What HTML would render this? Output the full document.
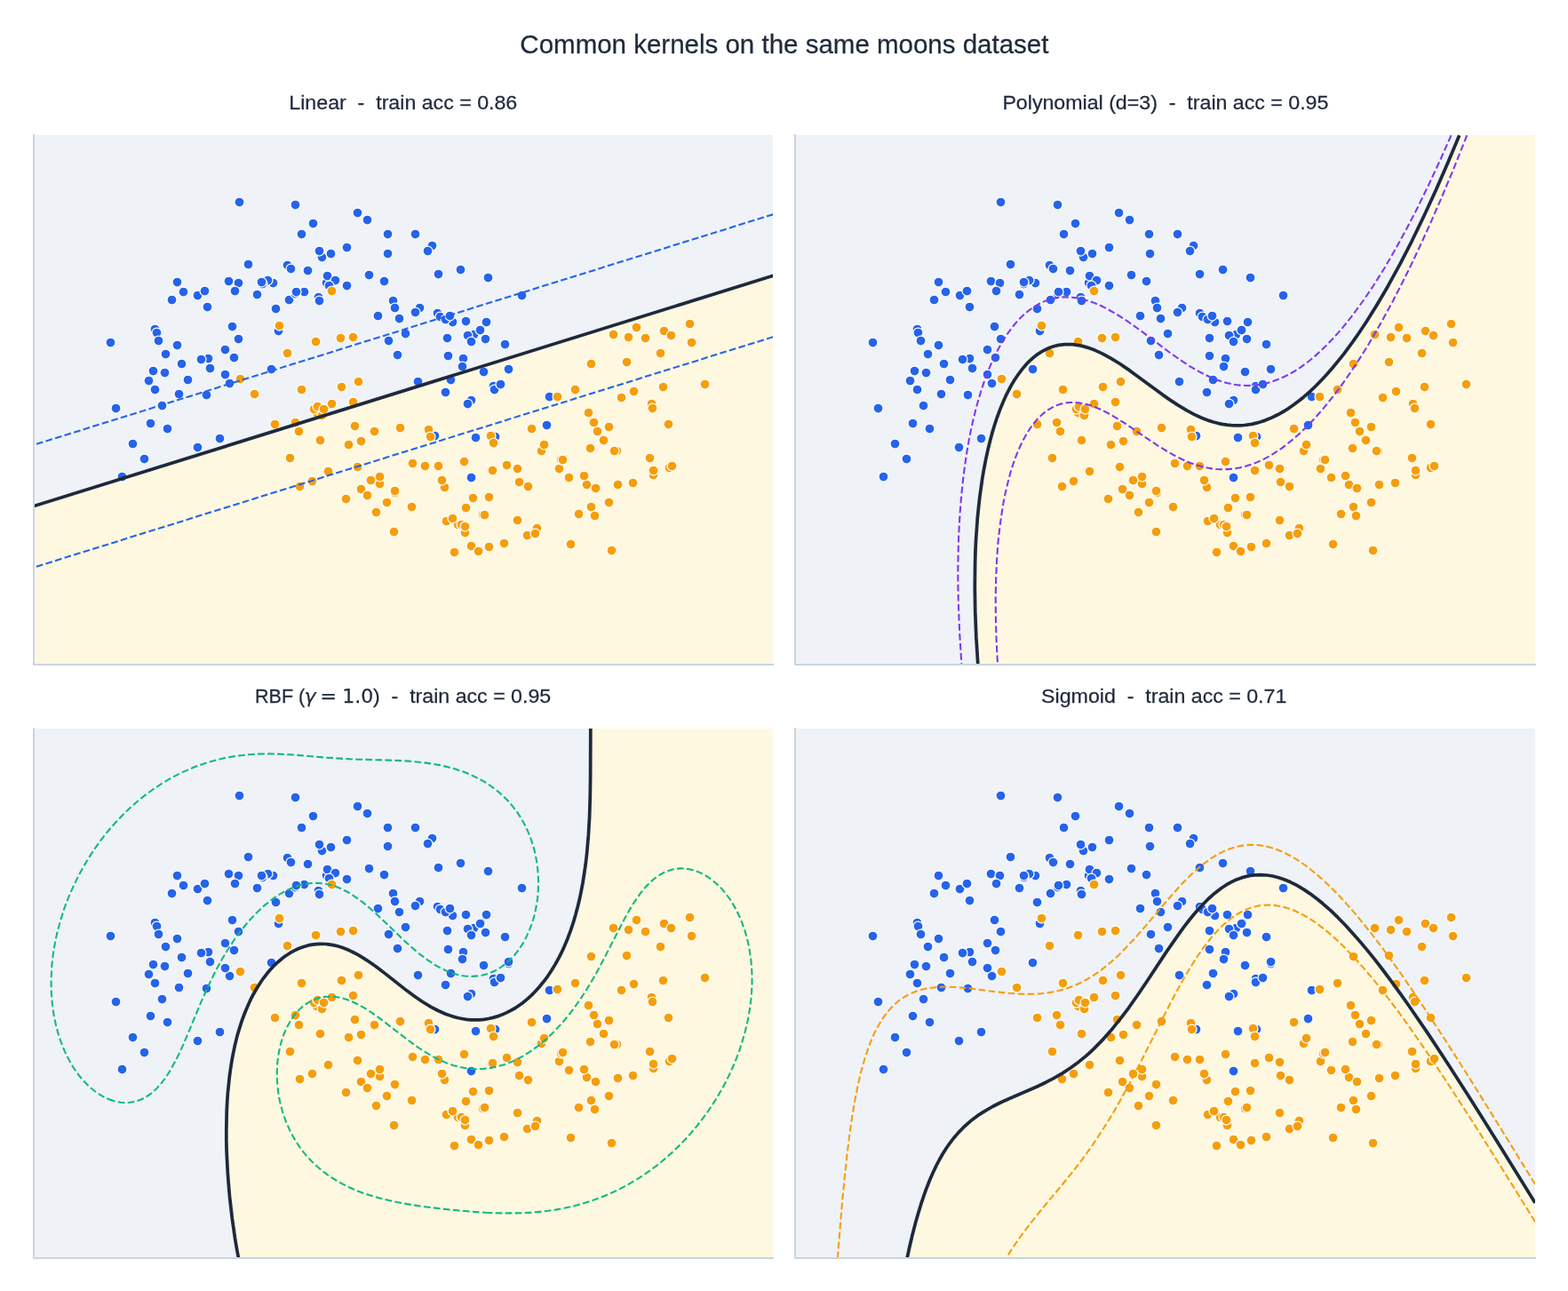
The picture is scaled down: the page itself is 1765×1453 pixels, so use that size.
<!DOCTYPE html>
<html lang="en"><head><meta charset="utf-8"><title>Common kernels on the same moons dataset</title>
<style>
html,body{margin:0;padding:0;background:#fff}
body{width:1765px;height:1453px;overflow:hidden}
svg{display:block}
text{font-family:"Liberation Sans","DejaVu Sans",sans-serif;font-weight:400;fill:#1e293b;white-space:pre;stroke:#1e293b;stroke-width:0.25px;paint-order:stroke fill}
</style></head><body>
<svg width="1765" height="1453" viewBox="0 0 1765 1453">
<defs><clipPath id="c0"><rect x="38" y="152" width="832" height="596"/></clipPath><clipPath id="c1"><rect x="895" y="152" width="833" height="596"/></clipPath><clipPath id="c2"><rect x="38" y="820" width="832" height="596"/></clipPath><clipPath id="c3"><rect x="895" y="820" width="833" height="596"/></clipPath></defs>
<rect width="1765" height="1453" fill="#fff"/>
<g clip-path="url(#c0)">
<rect x="38" y="152" width="832" height="596" fill="#eff2f7"/>
<path d="M35.5 749.8 L872.4 749.8 L872.4 310.2 L868.7 310.7 L39.2 569.3 L35.5 569.8 L35.5 749.8Z" fill="#fef8e0" fill-rule="evenodd"/>
<g stroke="#ffffff" stroke-width="1.25"><circle cx="530.50" cy="537.50" r="5.5" fill="#2563eb"/><circle cx="447.50" cy="399.50" r="5.5" fill="#2563eb"/><circle cx="258.50" cy="431.50" r="5.5" fill="#2563eb"/><circle cx="492.50" cy="352.50" r="5.5" fill="#2563eb"/><circle cx="199.50" cy="317.50" r="5.5" fill="#2563eb"/><circle cx="449.50" cy="358.50" r="5.5" fill="#2563eb"/><circle cx="507.50" cy="427.50" r="5.5" fill="#2563eb"/><circle cx="234.50" cy="403.50" r="5.5" fill="#2563eb"/><circle cx="352.50" cy="251.50" r="5.5" fill="#2563eb"/><circle cx="162.50" cy="516.50" r="5.5" fill="#2563eb"/><circle cx="257.50" cy="316.50" r="5.5" fill="#2563eb"/><circle cx="541.50" cy="371.50" r="5.5" fill="#2563eb"/><circle cx="268.50" cy="381.50" r="5.5" fill="#2563eb"/><circle cx="268.50" cy="318.50" r="5.5" fill="#2563eb"/><circle cx="307.50" cy="318.50" r="5.5" fill="#2563eb"/><circle cx="501.50" cy="441.50" r="5.5" fill="#2563eb"/><circle cx="533.50" cy="376.50" r="5.5" fill="#2563eb"/><circle cx="313.50" cy="372.50" r="5.5" fill="#2563eb"/><circle cx="358.50" cy="334.50" r="5.5" fill="#2563eb"/><circle cx="432.50" cy="316.50" r="5.5" fill="#2563eb"/><circle cx="557.50" cy="491.50" r="5.5" fill="#2563eb"/><circle cx="509.50" cy="362.50" r="5.5" fill="#2563eb"/><circle cx="204.50" cy="409.50" r="5.5" fill="#2563eb"/><circle cx="521.50" cy="403.50" r="5.5" fill="#2563eb"/><circle cx="486.50" cy="276.50" r="5.5" fill="#2563eb"/><circle cx="124.50" cy="385.50" r="5.5" fill="#2563eb"/><circle cx="174.50" cy="370.50" r="5.5" fill="#2563eb"/><circle cx="390.50" cy="278.50" r="5.5" fill="#2563eb"/><circle cx="186.50" cy="398.50" r="5.5" fill="#2563eb"/><circle cx="472.50" cy="346.50" r="5.5" fill="#2563eb"/><circle cx="323.50" cy="298.50" r="5.5" fill="#2563eb"/><circle cx="201.50" cy="443.50" r="5.5" fill="#2563eb"/><circle cx="176.50" cy="374.50" r="5.5" fill="#2563eb"/><circle cx="526.50" cy="377.50" r="5.5" fill="#2563eb"/><circle cx="332.50" cy="230.50" r="5.5" fill="#2563eb"/><circle cx="247.50" cy="493.50" r="5.5" fill="#2563eb"/><circle cx="367.50" cy="318.50" r="5.5" fill="#2563eb"/><circle cx="503.50" cy="380.50" r="5.5" fill="#2563eb"/><circle cx="572.50" cy="416.50" r="5.5" fill="#2563eb"/><circle cx="167.50" cy="428.50" r="5.5" fill="#2563eb"/><circle cx="346.50" cy="304.50" r="5.5" fill="#2563eb"/><circle cx="236.50" cy="414.50" r="5.5" fill="#2563eb"/><circle cx="390.50" cy="321.50" r="5.5" fill="#2563eb"/><circle cx="368.50" cy="310.50" r="5.5" fill="#2563eb"/><circle cx="301.50" cy="315.50" r="5.5" fill="#2563eb"/><circle cx="295.50" cy="319.50" r="5.5" fill="#2563eb"/><circle cx="555.50" cy="434.50" r="5.5" fill="#2563eb"/><circle cx="289.50" cy="331.50" r="5.5" fill="#2563eb"/><circle cx="172.50" cy="417.50" r="5.5" fill="#2563eb"/><circle cx="325.50" cy="337.50" r="5.5" fill="#2563eb"/><circle cx="540.50" cy="371.50" r="5.5" fill="#2563eb"/><circle cx="535.50" cy="492.50" r="5.5" fill="#2563eb"/><circle cx="362.50" cy="289.50" r="5.5" fill="#2563eb"/><circle cx="294.50" cy="317.50" r="5.5" fill="#2563eb"/><circle cx="495.50" cy="356.50" r="5.5" fill="#2563eb"/><circle cx="520.50" cy="412.50" r="5.5" fill="#2563eb"/><circle cx="489.50" cy="490.50" r="5.5" fill="#2563eb"/><circle cx="199.50" cy="388.50" r="5.5" fill="#2563eb"/><circle cx="501.50" cy="359.50" r="5.5" fill="#2563eb"/><circle cx="547.50" cy="362.50" r="5.5" fill="#2563eb"/><circle cx="342.50" cy="328.50" r="5.5" fill="#2563eb"/><circle cx="470.50" cy="429.50" r="5.5" fill="#2563eb"/><circle cx="305.50" cy="415.50" r="5.5" fill="#2563eb"/><circle cx="137.50" cy="536.50" r="5.5" fill="#2563eb"/><circle cx="253.50" cy="393.50" r="5.5" fill="#2563eb"/><circle cx="130.50" cy="459.50" r="5.5" fill="#2563eb"/><circle cx="493.50" cy="308.50" r="5.5" fill="#2563eb"/><circle cx="618.50" cy="446.50" r="5.5" fill="#2563eb"/><circle cx="572.50" cy="415.50" r="5.5" fill="#2563eb"/><circle cx="339.50" cy="263.50" r="5.5" fill="#2563eb"/><circle cx="377.50" cy="315.50" r="5.5" fill="#2563eb"/><circle cx="442.50" cy="338.50" r="5.5" fill="#2563eb"/><circle cx="193.50" cy="337.50" r="5.5" fill="#2563eb"/><circle cx="226.50" cy="404.50" r="5.5" fill="#2563eb"/><circle cx="544.50" cy="418.50" r="5.5" fill="#2563eb"/><circle cx="188.50" cy="482.50" r="5.5" fill="#2563eb"/><circle cx="332.50" cy="330.50" r="5.5" fill="#2563eb"/><circle cx="436.50" cy="285.50" r="5.5" fill="#2563eb"/><circle cx="206.50" cy="328.50" r="5.5" fill="#2563eb"/><circle cx="530.50" cy="384.50" r="5.5" fill="#2563eb"/><circle cx="556.50" cy="438.50" r="5.5" fill="#2563eb"/><circle cx="327.50" cy="302.50" r="5.5" fill="#2563eb"/><circle cx="615.50" cy="478.50" r="5.5" fill="#2563eb"/><circle cx="436.50" cy="263.50" r="5.5" fill="#2563eb"/><circle cx="546.50" cy="381.50" r="5.5" fill="#2563eb"/><circle cx="264.50" cy="327.50" r="5.5" fill="#2563eb"/><circle cx="549.50" cy="312.50" r="5.5" fill="#2563eb"/><circle cx="587.50" cy="332.50" r="5.5" fill="#2563eb"/><circle cx="222.50" cy="332.50" r="5.5" fill="#2563eb"/><circle cx="467.50" cy="262.50" r="5.5" fill="#2563eb"/><circle cx="169.50" cy="476.50" r="5.5" fill="#2563eb"/><circle cx="279.50" cy="297.50" r="5.5" fill="#2563eb"/><circle cx="563.50" cy="432.50" r="5.5" fill="#2563eb"/><circle cx="415.50" cy="309.50" r="5.5" fill="#2563eb"/><circle cx="253.50" cy="421.50" r="5.5" fill="#2563eb"/><circle cx="370.50" cy="321.50" r="5.5" fill="#2563eb"/><circle cx="518.50" cy="303.50" r="5.5" fill="#2563eb"/><circle cx="310.50" cy="347.50" r="5.5" fill="#2563eb"/><circle cx="269.50" cy="227.50" r="5.5" fill="#2563eb"/><circle cx="437.50" cy="383.50" r="5.5" fill="#2563eb"/><circle cx="333.50" cy="328.50" r="5.5" fill="#2563eb"/><circle cx="524.50" cy="361.50" r="5.5" fill="#2563eb"/><circle cx="359.50" cy="282.50" r="5.5" fill="#2563eb"/><circle cx="233.50" cy="345.50" r="5.5" fill="#2563eb"/><circle cx="230.50" cy="327.50" r="5.5" fill="#2563eb"/><circle cx="174.50" cy="438.50" r="5.5" fill="#2563eb"/><circle cx="211.50" cy="427.50" r="5.5" fill="#2563eb"/><circle cx="530.50" cy="450.50" r="5.5" fill="#2563eb"/><circle cx="506.50" cy="355.50" r="5.5" fill="#2563eb"/><circle cx="402.50" cy="239.50" r="5.5" fill="#2563eb"/><circle cx="467.50" cy="263.50" r="5.5" fill="#2563eb"/><circle cx="504.50" cy="400.50" r="5.5" fill="#2563eb"/><circle cx="185.50" cy="419.50" r="5.5" fill="#2563eb"/><circle cx="359.50" cy="338.50" r="5.5" fill="#2563eb"/><circle cx="568.50" cy="387.50" r="5.5" fill="#2563eb"/><circle cx="526.50" cy="454.50" r="5.5" fill="#2563eb"/><circle cx="444.50" cy="346.50" r="5.5" fill="#2563eb"/><circle cx="149.50" cy="499.50" r="5.5" fill="#2563eb"/><circle cx="456.50" cy="375.50" r="5.5" fill="#2563eb"/><circle cx="481.50" cy="282.50" r="5.5" fill="#2563eb"/><circle cx="261.50" cy="367.50" r="5.5" fill="#2563eb"/><circle cx="425.50" cy="355.50" r="5.5" fill="#2563eb"/><circle cx="372.50" cy="285.50" r="5.5" fill="#2563eb"/><circle cx="232.50" cy="444.50" r="5.5" fill="#2563eb"/><circle cx="222.50" cy="503.50" r="5.5" fill="#2563eb"/><circle cx="178.50" cy="383.50" r="5.5" fill="#2563eb"/><circle cx="413.50" cy="247.50" r="5.5" fill="#2563eb"/><circle cx="467.50" cy="351.50" r="5.5" fill="#2563eb"/><circle cx="263.50" cy="402.50" r="5.5" fill="#2563eb"/><circle cx="182.50" cy="456.50" r="5.5" fill="#2563eb"/><circle cx="664.50" cy="504.50" r="5.5" fill="#f59e0b"/><circle cx="665.50" cy="570.50" r="5.5" fill="#f59e0b"/><circle cx="651.50" cy="578.50" r="5.5" fill="#f59e0b"/><circle cx="406.50" cy="496.50" r="5.5" fill="#f59e0b"/><circle cx="660.50" cy="545.50" r="5.5" fill="#f59e0b"/><circle cx="593.50" cy="602.50" r="5.5" fill="#f59e0b"/><circle cx="753.50" cy="526.50" r="5.5" fill="#f59e0b"/><circle cx="707.50" cy="379.50" r="5.5" fill="#f59e0b"/><circle cx="435.50" cy="565.50" r="5.5" fill="#f59e0b"/><circle cx="356.50" cy="464.50" r="5.5" fill="#f59e0b"/><circle cx="389.50" cy="561.50" r="5.5" fill="#f59e0b"/><circle cx="705.50" cy="407.50" r="5.5" fill="#f59e0b"/><circle cx="314.50" cy="366.50" r="5.5" fill="#f59e0b"/><circle cx="552.50" cy="490.50" r="5.5" fill="#f59e0b"/><circle cx="443.50" cy="598.50" r="5.5" fill="#f59e0b"/><circle cx="326.50" cy="515.50" r="5.5" fill="#f59e0b"/><circle cx="731.50" cy="515.50" r="5.5" fill="#f59e0b"/><circle cx="747.50" cy="372.50" r="5.5" fill="#f59e0b"/><circle cx="629.50" cy="527.50" r="5.5" fill="#f59e0b"/><circle cx="399.50" cy="479.50" r="5.5" fill="#f59e0b"/><circle cx="735.50" cy="534.50" r="5.5" fill="#f59e0b"/><circle cx="502.50" cy="586.50" r="5.5" fill="#f59e0b"/><circle cx="511.50" cy="621.50" r="5.5" fill="#f59e0b"/><circle cx="554.50" cy="529.50" r="5.5" fill="#f59e0b"/><circle cx="665.50" cy="409.50" r="5.5" fill="#f59e0b"/><circle cx="752.50" cy="477.50" r="5.5" fill="#f59e0b"/><circle cx="450.50" cy="481.50" r="5.5" fill="#f59e0b"/><circle cx="699.50" cy="447.50" r="5.5" fill="#f59e0b"/><circle cx="515.50" cy="590.50" r="5.5" fill="#f59e0b"/><circle cx="712.50" cy="543.50" r="5.5" fill="#f59e0b"/><circle cx="679.50" cy="495.50" r="5.5" fill="#f59e0b"/><circle cx="776.50" cy="364.50" r="5.5" fill="#f59e0b"/><circle cx="286.50" cy="443.50" r="5.5" fill="#f59e0b"/><circle cx="647.50" cy="438.50" r="5.5" fill="#f59e0b"/><circle cx="584.50" cy="542.50" r="5.5" fill="#f59e0b"/><circle cx="309.50" cy="477.50" r="5.5" fill="#f59e0b"/><circle cx="733.50" cy="454.50" r="5.5" fill="#f59e0b"/><circle cx="550.50" cy="559.50" r="5.5" fill="#f59e0b"/><circle cx="670.50" cy="549.50" r="5.5" fill="#f59e0b"/><circle cx="631.50" cy="517.50" r="5.5" fill="#f59e0b"/><circle cx="339.50" cy="438.50" r="5.5" fill="#f59e0b"/><circle cx="743.50" cy="397.50" r="5.5" fill="#f59e0b"/><circle cx="423.50" cy="576.50" r="5.5" fill="#f59e0b"/><circle cx="369.50" cy="530.50" r="5.5" fill="#f59e0b"/><circle cx="519.50" cy="590.50" r="5.5" fill="#f59e0b"/><circle cx="716.50" cy="368.50" r="5.5" fill="#f59e0b"/><circle cx="642.50" cy="612.50" r="5.5" fill="#f59e0b"/><circle cx="778.50" cy="385.50" r="5.5" fill="#f59e0b"/><circle cx="582.50" cy="585.50" r="5.5" fill="#f59e0b"/><circle cx="582.50" cy="527.50" r="5.5" fill="#f59e0b"/><circle cx="688.50" cy="619.50" r="5.5" fill="#f59e0b"/><circle cx="482.50" cy="483.50" r="5.5" fill="#f59e0b"/><circle cx="270.50" cy="426.50" r="5.5" fill="#f59e0b"/><circle cx="532.50" cy="560.50" r="5.5" fill="#f59e0b"/><circle cx="604.50" cy="594.50" r="5.5" fill="#f59e0b"/><circle cx="353.50" cy="460.50" r="5.5" fill="#f59e0b"/><circle cx="657.50" cy="535.50" r="5.5" fill="#f59e0b"/><circle cx="403.50" cy="429.50" r="5.5" fill="#f59e0b"/><circle cx="336.50" cy="485.50" r="5.5" fill="#f59e0b"/><circle cx="662.50" cy="464.50" r="5.5" fill="#f59e0b"/><circle cx="793.50" cy="432.50" r="5.5" fill="#f59e0b"/><circle cx="685.50" cy="565.50" r="5.5" fill="#f59e0b"/><circle cx="351.50" cy="541.50" r="5.5" fill="#f59e0b"/><circle cx="384.50" cy="435.50" r="5.5" fill="#f59e0b"/><circle cx="598.50" cy="482.50" r="5.5" fill="#f59e0b"/><circle cx="337.50" cy="547.50" r="5.5" fill="#f59e0b"/><circle cx="397.50" cy="452.50" r="5.5" fill="#f59e0b"/><circle cx="694.50" cy="507.50" r="5.5" fill="#f59e0b"/><circle cx="602.50" cy="600.50" r="5.5" fill="#f59e0b"/><circle cx="640.50" cy="537.50" r="5.5" fill="#f59e0b"/><circle cx="397.50" cy="379.50" r="5.5" fill="#f59e0b"/><circle cx="627.50" cy="446.50" r="5.5" fill="#f59e0b"/><circle cx="713.50" cy="440.50" r="5.5" fill="#f59e0b"/><circle cx="362.50" cy="467.50" r="5.5" fill="#f59e0b"/><circle cx="734.50" cy="459.50" r="5.5" fill="#f59e0b"/><circle cx="357.50" cy="457.50" r="5.5" fill="#f59e0b"/><circle cx="360.50" cy="495.50" r="5.5" fill="#f59e0b"/><circle cx="427.50" cy="544.50" r="5.5" fill="#f59e0b"/><circle cx="669.50" cy="580.50" r="5.5" fill="#f59e0b"/><circle cx="756.50" cy="524.50" r="5.5" fill="#f59e0b"/><circle cx="633.50" cy="517.50" r="5.5" fill="#f59e0b"/><circle cx="668.50" cy="475.50" r="5.5" fill="#f59e0b"/><circle cx="594.50" cy="547.50" r="5.5" fill="#f59e0b"/><circle cx="530.50" cy="614.50" r="5.5" fill="#f59e0b"/><circle cx="523.50" cy="599.50" r="5.5" fill="#f59e0b"/><circle cx="543.50" cy="579.50" r="5.5" fill="#f59e0b"/><circle cx="373.50" cy="327.50" r="5.5" fill="#f59e0b"/><circle cx="500.50" cy="548.50" r="5.5" fill="#f59e0b"/><circle cx="406.50" cy="550.50" r="5.5" fill="#f59e0b"/><circle cx="493.50" cy="524.50" r="5.5" fill="#f59e0b"/><circle cx="746.50" cy="435.50" r="5.5" fill="#f59e0b"/><circle cx="555.50" cy="498.50" r="5.5" fill="#f59e0b"/><circle cx="695.50" cy="545.50" r="5.5" fill="#f59e0b"/><circle cx="609.50" cy="507.50" r="5.5" fill="#f59e0b"/><circle cx="523.50" cy="592.50" r="5.5" fill="#f59e0b"/><circle cx="545.50" cy="579.50" r="5.5" fill="#f59e0b"/><circle cx="735.50" cy="529.50" r="5.5" fill="#f59e0b"/><circle cx="392.50" cy="500.50" r="5.5" fill="#f59e0b"/><circle cx="402.50" cy="525.50" r="5.5" fill="#f59e0b"/><circle cx="522.50" cy="519.50" r="5.5" fill="#f59e0b"/><circle cx="332.50" cy="475.50" r="5.5" fill="#f59e0b"/><circle cx="726.50" cy="380.50" r="5.5" fill="#f59e0b"/><circle cx="463.50" cy="570.50" r="5.5" fill="#f59e0b"/><circle cx="567.50" cy="611.50" r="5.5" fill="#f59e0b"/><circle cx="373.50" cy="454.50" r="5.5" fill="#f59e0b"/><circle cx="685.50" cy="480.50" r="5.5" fill="#f59e0b"/><circle cx="427.50" cy="536.50" r="5.5" fill="#f59e0b"/><circle cx="417.50" cy="540.50" r="5.5" fill="#f59e0b"/><circle cx="421.50" cy="485.50" r="5.5" fill="#f59e0b"/><circle cx="444.50" cy="554.50" r="5.5" fill="#f59e0b"/><circle cx="464.50" cy="521.50" r="5.5" fill="#f59e0b"/><circle cx="690.50" cy="376.50" r="5.5" fill="#f59e0b"/><circle cx="444.50" cy="552.50" r="5.5" fill="#f59e0b"/><circle cx="355.50" cy="384.50" r="5.5" fill="#f59e0b"/><circle cx="755.50" cy="377.50" r="5.5" fill="#f59e0b"/><circle cx="550.50" cy="615.50" r="5.5" fill="#f59e0b"/><circle cx="612.50" cy="500.50" r="5.5" fill="#f59e0b"/><circle cx="478.50" cy="524.50" r="5.5" fill="#f59e0b"/><circle cx="570.50" cy="523.50" r="5.5" fill="#f59e0b"/><circle cx="364.50" cy="460.50" r="5.5" fill="#f59e0b"/><circle cx="672.50" cy="485.50" r="5.5" fill="#f59e0b"/><circle cx="323.50" cy="397.50" r="5.5" fill="#f59e0b"/><circle cx="691.50" cy="507.50" r="5.5" fill="#f59e0b"/><circle cx="497.50" cy="540.50" r="5.5" fill="#f59e0b"/><circle cx="413.50" cy="557.50" r="5.5" fill="#f59e0b"/><circle cx="538.50" cy="620.50" r="5.5" fill="#f59e0b"/><circle cx="383.50" cy="380.50" r="5.5" fill="#f59e0b"/><circle cx="509.50" cy="583.50" r="5.5" fill="#f59e0b"/><circle cx="524.50" cy="571.50" r="5.5" fill="#f59e0b"/><circle cx="484.50" cy="491.50" r="5.5" fill="#f59e0b"/></g>
<path d="M870.4 241.2 L37.5 500.9M870.4 379.1 L37.5 638.8" fill="none" stroke="#2563eb" stroke-width="2.08333" stroke-dasharray="7.71 3.33"/>
<path d="M870.4 310.2 L37.5 569.8" fill="none" stroke="#1e293b" stroke-width="3.75" stroke-linejoin="round"/>
</g>
<path d="M38 152V748H870" fill="none" stroke="#cbd5e1" stroke-width="2" stroke-linecap="square" stroke-linejoin="miter"/>
<g clip-path="url(#c1)">
<rect x="895" y="152" width="833" height="596" fill="#eff2f7"/>
<path d="M1100.8 749.8 L1730 749.8 L1730 150.3 L1642.7 150.3 L1641.4 155.3 L1631.2 179.8 L1621.2 202.9 L1604.5 239.7 L1589.5 270.8 L1574.4 299.9 L1561.1 324.1 L1547.7 346.8 L1534.4 367.8 L1521 387.1 L1507.7 404.7 L1494.3 420.5 L1482.6 432.9 L1476 439.3 L1469.3 445.3 L1462.6 450.8 L1455.9 455.8 L1449.3 460.4 L1442.6 464.5 L1435.9 468 L1430.9 470.4 L1420.9 474.2 L1412.5 476.6 L1404.2 478.1 L1394.2 478.9 L1385.8 478.7 L1375.8 477.4 L1367.4 475.5 L1357.5 472.2 L1349.1 468.8 L1340.8 464.7 L1332.4 460 L1324.1 454.8 L1307.4 443.4 L1269.6 415.6 L1260.7 409.5 L1251.2 403.6 L1242.3 398.7 L1234 394.8 L1225.6 391.6 L1217.3 389.2 L1208.9 387.9 L1200.6 387.5 L1192.2 388.4 L1185.5 390 L1178.9 392.5 L1172.2 396 L1165.5 400.6 L1158.8 406.4 L1155.5 409.8 L1150.5 415.6 L1146 421.6 L1142.2 427.3 L1138.4 433.6 L1133.8 442.3 L1130.5 449.4 L1127.1 457.2 L1123.8 465.8 L1120.5 475.5 L1115.4 492.4 L1110.8 511.4 L1106.8 532.3 L1103.2 556.3 L1100.6 580.2 L1098.8 604.7 L1097.6 631.1 L1097.3 658 L1097.6 684.9 L1098.8 714.9 L1100.8 749.8Z" fill="#fef8e0" fill-rule="evenodd"/>
<g stroke="#ffffff" stroke-width="1.25"><circle cx="1388.50" cy="537.50" r="5.5" fill="#2563eb"/><circle cx="1304.50" cy="399.50" r="5.5" fill="#2563eb"/><circle cx="1116.50" cy="431.50" r="5.5" fill="#2563eb"/><circle cx="1350.50" cy="352.50" r="5.5" fill="#2563eb"/><circle cx="1056.50" cy="317.50" r="5.5" fill="#2563eb"/><circle cx="1306.50" cy="358.50" r="5.5" fill="#2563eb"/><circle cx="1365.50" cy="427.50" r="5.5" fill="#2563eb"/><circle cx="1091.50" cy="403.50" r="5.5" fill="#2563eb"/><circle cx="1210.50" cy="251.50" r="5.5" fill="#2563eb"/><circle cx="1020.50" cy="516.50" r="5.5" fill="#2563eb"/><circle cx="1115.50" cy="316.50" r="5.5" fill="#2563eb"/><circle cx="1398.50" cy="371.50" r="5.5" fill="#2563eb"/><circle cx="1126.50" cy="381.50" r="5.5" fill="#2563eb"/><circle cx="1125.50" cy="318.50" r="5.5" fill="#2563eb"/><circle cx="1165.50" cy="318.50" r="5.5" fill="#2563eb"/><circle cx="1358.50" cy="441.50" r="5.5" fill="#2563eb"/><circle cx="1391.50" cy="376.50" r="5.5" fill="#2563eb"/><circle cx="1170.50" cy="372.50" r="5.5" fill="#2563eb"/><circle cx="1216.50" cy="334.50" r="5.5" fill="#2563eb"/><circle cx="1290.50" cy="316.50" r="5.5" fill="#2563eb"/><circle cx="1414.50" cy="491.50" r="5.5" fill="#2563eb"/><circle cx="1367.50" cy="362.50" r="5.5" fill="#2563eb"/><circle cx="1062.50" cy="409.50" r="5.5" fill="#2563eb"/><circle cx="1379.50" cy="403.50" r="5.5" fill="#2563eb"/><circle cx="1343.50" cy="276.50" r="5.5" fill="#2563eb"/><circle cx="982.50" cy="385.50" r="5.5" fill="#2563eb"/><circle cx="1032.50" cy="370.50" r="5.5" fill="#2563eb"/><circle cx="1248.50" cy="278.50" r="5.5" fill="#2563eb"/><circle cx="1044.50" cy="398.50" r="5.5" fill="#2563eb"/><circle cx="1330.50" cy="346.50" r="5.5" fill="#2563eb"/><circle cx="1181.50" cy="298.50" r="5.5" fill="#2563eb"/><circle cx="1059.50" cy="443.50" r="5.5" fill="#2563eb"/><circle cx="1033.50" cy="374.50" r="5.5" fill="#2563eb"/><circle cx="1383.50" cy="377.50" r="5.5" fill="#2563eb"/><circle cx="1190.50" cy="230.50" r="5.5" fill="#2563eb"/><circle cx="1104.50" cy="493.50" r="5.5" fill="#2563eb"/><circle cx="1225.50" cy="318.50" r="5.5" fill="#2563eb"/><circle cx="1361.50" cy="380.50" r="5.5" fill="#2563eb"/><circle cx="1430.50" cy="416.50" r="5.5" fill="#2563eb"/><circle cx="1024.50" cy="428.50" r="5.5" fill="#2563eb"/><circle cx="1204.50" cy="304.50" r="5.5" fill="#2563eb"/><circle cx="1094.50" cy="414.50" r="5.5" fill="#2563eb"/><circle cx="1248.50" cy="321.50" r="5.5" fill="#2563eb"/><circle cx="1226.50" cy="310.50" r="5.5" fill="#2563eb"/><circle cx="1158.50" cy="315.50" r="5.5" fill="#2563eb"/><circle cx="1152.50" cy="319.50" r="5.5" fill="#2563eb"/><circle cx="1413.50" cy="434.50" r="5.5" fill="#2563eb"/><circle cx="1147.50" cy="331.50" r="5.5" fill="#2563eb"/><circle cx="1029.50" cy="417.50" r="5.5" fill="#2563eb"/><circle cx="1182.50" cy="337.50" r="5.5" fill="#2563eb"/><circle cx="1397.50" cy="371.50" r="5.5" fill="#2563eb"/><circle cx="1393.50" cy="492.50" r="5.5" fill="#2563eb"/><circle cx="1219.50" cy="289.50" r="5.5" fill="#2563eb"/><circle cx="1152.50" cy="317.50" r="5.5" fill="#2563eb"/><circle cx="1353.50" cy="356.50" r="5.5" fill="#2563eb"/><circle cx="1377.50" cy="412.50" r="5.5" fill="#2563eb"/><circle cx="1346.50" cy="490.50" r="5.5" fill="#2563eb"/><circle cx="1056.50" cy="388.50" r="5.5" fill="#2563eb"/><circle cx="1359.50" cy="359.50" r="5.5" fill="#2563eb"/><circle cx="1404.50" cy="362.50" r="5.5" fill="#2563eb"/><circle cx="1200.50" cy="328.50" r="5.5" fill="#2563eb"/><circle cx="1327.50" cy="429.50" r="5.5" fill="#2563eb"/><circle cx="1162.50" cy="415.50" r="5.5" fill="#2563eb"/><circle cx="994.50" cy="536.50" r="5.5" fill="#2563eb"/><circle cx="1111.50" cy="393.50" r="5.5" fill="#2563eb"/><circle cx="988.50" cy="459.50" r="5.5" fill="#2563eb"/><circle cx="1350.50" cy="308.50" r="5.5" fill="#2563eb"/><circle cx="1476.50" cy="446.50" r="5.5" fill="#2563eb"/><circle cx="1430.50" cy="415.50" r="5.5" fill="#2563eb"/><circle cx="1197.50" cy="263.50" r="5.5" fill="#2563eb"/><circle cx="1234.50" cy="315.50" r="5.5" fill="#2563eb"/><circle cx="1300.50" cy="338.50" r="5.5" fill="#2563eb"/><circle cx="1051.50" cy="337.50" r="5.5" fill="#2563eb"/><circle cx="1083.50" cy="404.50" r="5.5" fill="#2563eb"/><circle cx="1401.50" cy="418.50" r="5.5" fill="#2563eb"/><circle cx="1046.50" cy="482.50" r="5.5" fill="#2563eb"/><circle cx="1190.50" cy="330.50" r="5.5" fill="#2563eb"/><circle cx="1294.50" cy="285.50" r="5.5" fill="#2563eb"/><circle cx="1064.50" cy="328.50" r="5.5" fill="#2563eb"/><circle cx="1388.50" cy="384.50" r="5.5" fill="#2563eb"/><circle cx="1413.50" cy="438.50" r="5.5" fill="#2563eb"/><circle cx="1185.50" cy="302.50" r="5.5" fill="#2563eb"/><circle cx="1472.50" cy="478.50" r="5.5" fill="#2563eb"/><circle cx="1293.50" cy="263.50" r="5.5" fill="#2563eb"/><circle cx="1403.50" cy="381.50" r="5.5" fill="#2563eb"/><circle cx="1121.50" cy="327.50" r="5.5" fill="#2563eb"/><circle cx="1407.50" cy="312.50" r="5.5" fill="#2563eb"/><circle cx="1444.50" cy="332.50" r="5.5" fill="#2563eb"/><circle cx="1080.50" cy="332.50" r="5.5" fill="#2563eb"/><circle cx="1325.50" cy="262.50" r="5.5" fill="#2563eb"/><circle cx="1027.50" cy="476.50" r="5.5" fill="#2563eb"/><circle cx="1137.50" cy="297.50" r="5.5" fill="#2563eb"/><circle cx="1421.50" cy="432.50" r="5.5" fill="#2563eb"/><circle cx="1273.50" cy="309.50" r="5.5" fill="#2563eb"/><circle cx="1111.50" cy="421.50" r="5.5" fill="#2563eb"/><circle cx="1228.50" cy="321.50" r="5.5" fill="#2563eb"/><circle cx="1376.50" cy="303.50" r="5.5" fill="#2563eb"/><circle cx="1167.50" cy="347.50" r="5.5" fill="#2563eb"/><circle cx="1126.50" cy="227.50" r="5.5" fill="#2563eb"/><circle cx="1295.50" cy="383.50" r="5.5" fill="#2563eb"/><circle cx="1191.50" cy="328.50" r="5.5" fill="#2563eb"/><circle cx="1381.50" cy="361.50" r="5.5" fill="#2563eb"/><circle cx="1216.50" cy="282.50" r="5.5" fill="#2563eb"/><circle cx="1091.50" cy="345.50" r="5.5" fill="#2563eb"/><circle cx="1088.50" cy="327.50" r="5.5" fill="#2563eb"/><circle cx="1032.50" cy="438.50" r="5.5" fill="#2563eb"/><circle cx="1069.50" cy="427.50" r="5.5" fill="#2563eb"/><circle cx="1388.50" cy="450.50" r="5.5" fill="#2563eb"/><circle cx="1364.50" cy="355.50" r="5.5" fill="#2563eb"/><circle cx="1259.50" cy="239.50" r="5.5" fill="#2563eb"/><circle cx="1325.50" cy="263.50" r="5.5" fill="#2563eb"/><circle cx="1361.50" cy="400.50" r="5.5" fill="#2563eb"/><circle cx="1042.50" cy="419.50" r="5.5" fill="#2563eb"/><circle cx="1217.50" cy="338.50" r="5.5" fill="#2563eb"/><circle cx="1425.50" cy="387.50" r="5.5" fill="#2563eb"/><circle cx="1383.50" cy="454.50" r="5.5" fill="#2563eb"/><circle cx="1302.50" cy="346.50" r="5.5" fill="#2563eb"/><circle cx="1007.50" cy="499.50" r="5.5" fill="#2563eb"/><circle cx="1314.50" cy="375.50" r="5.5" fill="#2563eb"/><circle cx="1339.50" cy="282.50" r="5.5" fill="#2563eb"/><circle cx="1119.50" cy="367.50" r="5.5" fill="#2563eb"/><circle cx="1283.50" cy="355.50" r="5.5" fill="#2563eb"/><circle cx="1229.50" cy="285.50" r="5.5" fill="#2563eb"/><circle cx="1089.50" cy="444.50" r="5.5" fill="#2563eb"/><circle cx="1079.50" cy="503.50" r="5.5" fill="#2563eb"/><circle cx="1036.50" cy="383.50" r="5.5" fill="#2563eb"/><circle cx="1271.50" cy="247.50" r="5.5" fill="#2563eb"/><circle cx="1325.50" cy="351.50" r="5.5" fill="#2563eb"/><circle cx="1120.50" cy="402.50" r="5.5" fill="#2563eb"/><circle cx="1039.50" cy="456.50" r="5.5" fill="#2563eb"/><circle cx="1522.50" cy="504.50" r="5.5" fill="#f59e0b"/><circle cx="1523.50" cy="570.50" r="5.5" fill="#f59e0b"/><circle cx="1509.50" cy="578.50" r="5.5" fill="#f59e0b"/><circle cx="1264.50" cy="496.50" r="5.5" fill="#f59e0b"/><circle cx="1518.50" cy="545.50" r="5.5" fill="#f59e0b"/><circle cx="1451.50" cy="602.50" r="5.5" fill="#f59e0b"/><circle cx="1610.50" cy="526.50" r="5.5" fill="#f59e0b"/><circle cx="1565.50" cy="379.50" r="5.5" fill="#f59e0b"/><circle cx="1293.50" cy="565.50" r="5.5" fill="#f59e0b"/><circle cx="1213.50" cy="464.50" r="5.5" fill="#f59e0b"/><circle cx="1247.50" cy="561.50" r="5.5" fill="#f59e0b"/><circle cx="1563.50" cy="407.50" r="5.5" fill="#f59e0b"/><circle cx="1172.50" cy="366.50" r="5.5" fill="#f59e0b"/><circle cx="1410.50" cy="490.50" r="5.5" fill="#f59e0b"/><circle cx="1301.50" cy="598.50" r="5.5" fill="#f59e0b"/><circle cx="1184.50" cy="515.50" r="5.5" fill="#f59e0b"/><circle cx="1589.50" cy="515.50" r="5.5" fill="#f59e0b"/><circle cx="1604.50" cy="372.50" r="5.5" fill="#f59e0b"/><circle cx="1486.50" cy="527.50" r="5.5" fill="#f59e0b"/><circle cx="1257.50" cy="479.50" r="5.5" fill="#f59e0b"/><circle cx="1593.50" cy="534.50" r="5.5" fill="#f59e0b"/><circle cx="1359.50" cy="586.50" r="5.5" fill="#f59e0b"/><circle cx="1369.50" cy="621.50" r="5.5" fill="#f59e0b"/><circle cx="1412.50" cy="529.50" r="5.5" fill="#f59e0b"/><circle cx="1523.50" cy="409.50" r="5.5" fill="#f59e0b"/><circle cx="1610.50" cy="477.50" r="5.5" fill="#f59e0b"/><circle cx="1307.50" cy="481.50" r="5.5" fill="#f59e0b"/><circle cx="1556.50" cy="447.50" r="5.5" fill="#f59e0b"/><circle cx="1373.50" cy="590.50" r="5.5" fill="#f59e0b"/><circle cx="1570.50" cy="543.50" r="5.5" fill="#f59e0b"/><circle cx="1537.50" cy="495.50" r="5.5" fill="#f59e0b"/><circle cx="1633.50" cy="364.50" r="5.5" fill="#f59e0b"/><circle cx="1144.50" cy="443.50" r="5.5" fill="#f59e0b"/><circle cx="1505.50" cy="438.50" r="5.5" fill="#f59e0b"/><circle cx="1441.50" cy="542.50" r="5.5" fill="#f59e0b"/><circle cx="1167.50" cy="477.50" r="5.5" fill="#f59e0b"/><circle cx="1590.50" cy="454.50" r="5.5" fill="#f59e0b"/><circle cx="1407.50" cy="559.50" r="5.5" fill="#f59e0b"/><circle cx="1527.50" cy="549.50" r="5.5" fill="#f59e0b"/><circle cx="1489.50" cy="517.50" r="5.5" fill="#f59e0b"/><circle cx="1196.50" cy="438.50" r="5.5" fill="#f59e0b"/><circle cx="1600.50" cy="397.50" r="5.5" fill="#f59e0b"/><circle cx="1281.50" cy="576.50" r="5.5" fill="#f59e0b"/><circle cx="1226.50" cy="530.50" r="5.5" fill="#f59e0b"/><circle cx="1377.50" cy="590.50" r="5.5" fill="#f59e0b"/><circle cx="1574.50" cy="368.50" r="5.5" fill="#f59e0b"/><circle cx="1500.50" cy="612.50" r="5.5" fill="#f59e0b"/><circle cx="1635.50" cy="385.50" r="5.5" fill="#f59e0b"/><circle cx="1440.50" cy="585.50" r="5.5" fill="#f59e0b"/><circle cx="1440.50" cy="527.50" r="5.5" fill="#f59e0b"/><circle cx="1545.50" cy="619.50" r="5.5" fill="#f59e0b"/><circle cx="1340.50" cy="483.50" r="5.5" fill="#f59e0b"/><circle cx="1127.50" cy="426.50" r="5.5" fill="#f59e0b"/><circle cx="1390.50" cy="560.50" r="5.5" fill="#f59e0b"/><circle cx="1462.50" cy="594.50" r="5.5" fill="#f59e0b"/><circle cx="1211.50" cy="460.50" r="5.5" fill="#f59e0b"/><circle cx="1514.50" cy="535.50" r="5.5" fill="#f59e0b"/><circle cx="1261.50" cy="429.50" r="5.5" fill="#f59e0b"/><circle cx="1193.50" cy="485.50" r="5.5" fill="#f59e0b"/><circle cx="1520.50" cy="464.50" r="5.5" fill="#f59e0b"/><circle cx="1650.50" cy="432.50" r="5.5" fill="#f59e0b"/><circle cx="1543.50" cy="565.50" r="5.5" fill="#f59e0b"/><circle cx="1208.50" cy="541.50" r="5.5" fill="#f59e0b"/><circle cx="1241.50" cy="435.50" r="5.5" fill="#f59e0b"/><circle cx="1456.50" cy="482.50" r="5.5" fill="#f59e0b"/><circle cx="1195.50" cy="547.50" r="5.5" fill="#f59e0b"/><circle cx="1255.50" cy="452.50" r="5.5" fill="#f59e0b"/><circle cx="1551.50" cy="507.50" r="5.5" fill="#f59e0b"/><circle cx="1460.50" cy="600.50" r="5.5" fill="#f59e0b"/><circle cx="1498.50" cy="537.50" r="5.5" fill="#f59e0b"/><circle cx="1255.50" cy="379.50" r="5.5" fill="#f59e0b"/><circle cx="1485.50" cy="446.50" r="5.5" fill="#f59e0b"/><circle cx="1571.50" cy="440.50" r="5.5" fill="#f59e0b"/><circle cx="1220.50" cy="467.50" r="5.5" fill="#f59e0b"/><circle cx="1592.50" cy="459.50" r="5.5" fill="#f59e0b"/><circle cx="1214.50" cy="457.50" r="5.5" fill="#f59e0b"/><circle cx="1217.50" cy="495.50" r="5.5" fill="#f59e0b"/><circle cx="1285.50" cy="544.50" r="5.5" fill="#f59e0b"/><circle cx="1526.50" cy="580.50" r="5.5" fill="#f59e0b"/><circle cx="1614.50" cy="524.50" r="5.5" fill="#f59e0b"/><circle cx="1491.50" cy="517.50" r="5.5" fill="#f59e0b"/><circle cx="1525.50" cy="475.50" r="5.5" fill="#f59e0b"/><circle cx="1451.50" cy="547.50" r="5.5" fill="#f59e0b"/><circle cx="1388.50" cy="614.50" r="5.5" fill="#f59e0b"/><circle cx="1381.50" cy="599.50" r="5.5" fill="#f59e0b"/><circle cx="1401.50" cy="579.50" r="5.5" fill="#f59e0b"/><circle cx="1231.50" cy="327.50" r="5.5" fill="#f59e0b"/><circle cx="1358.50" cy="548.50" r="5.5" fill="#f59e0b"/><circle cx="1263.50" cy="550.50" r="5.5" fill="#f59e0b"/><circle cx="1350.50" cy="524.50" r="5.5" fill="#f59e0b"/><circle cx="1603.50" cy="435.50" r="5.5" fill="#f59e0b"/><circle cx="1412.50" cy="498.50" r="5.5" fill="#f59e0b"/><circle cx="1552.50" cy="545.50" r="5.5" fill="#f59e0b"/><circle cx="1467.50" cy="507.50" r="5.5" fill="#f59e0b"/><circle cx="1380.50" cy="592.50" r="5.5" fill="#f59e0b"/><circle cx="1403.50" cy="579.50" r="5.5" fill="#f59e0b"/><circle cx="1593.50" cy="529.50" r="5.5" fill="#f59e0b"/><circle cx="1250.50" cy="500.50" r="5.5" fill="#f59e0b"/><circle cx="1260.50" cy="525.50" r="5.5" fill="#f59e0b"/><circle cx="1379.50" cy="519.50" r="5.5" fill="#f59e0b"/><circle cx="1189.50" cy="475.50" r="5.5" fill="#f59e0b"/><circle cx="1583.50" cy="380.50" r="5.5" fill="#f59e0b"/><circle cx="1320.50" cy="570.50" r="5.5" fill="#f59e0b"/><circle cx="1425.50" cy="611.50" r="5.5" fill="#f59e0b"/><circle cx="1231.50" cy="454.50" r="5.5" fill="#f59e0b"/><circle cx="1543.50" cy="480.50" r="5.5" fill="#f59e0b"/><circle cx="1285.50" cy="536.50" r="5.5" fill="#f59e0b"/><circle cx="1275.50" cy="540.50" r="5.5" fill="#f59e0b"/><circle cx="1279.50" cy="485.50" r="5.5" fill="#f59e0b"/><circle cx="1302.50" cy="554.50" r="5.5" fill="#f59e0b"/><circle cx="1322.50" cy="521.50" r="5.5" fill="#f59e0b"/><circle cx="1547.50" cy="376.50" r="5.5" fill="#f59e0b"/><circle cx="1301.50" cy="552.50" r="5.5" fill="#f59e0b"/><circle cx="1213.50" cy="384.50" r="5.5" fill="#f59e0b"/><circle cx="1613.50" cy="377.50" r="5.5" fill="#f59e0b"/><circle cx="1408.50" cy="615.50" r="5.5" fill="#f59e0b"/><circle cx="1470.50" cy="500.50" r="5.5" fill="#f59e0b"/><circle cx="1336.50" cy="524.50" r="5.5" fill="#f59e0b"/><circle cx="1428.50" cy="523.50" r="5.5" fill="#f59e0b"/><circle cx="1221.50" cy="460.50" r="5.5" fill="#f59e0b"/><circle cx="1530.50" cy="485.50" r="5.5" fill="#f59e0b"/><circle cx="1181.50" cy="397.50" r="5.5" fill="#f59e0b"/><circle cx="1549.50" cy="507.50" r="5.5" fill="#f59e0b"/><circle cx="1355.50" cy="540.50" r="5.5" fill="#f59e0b"/><circle cx="1271.50" cy="557.50" r="5.5" fill="#f59e0b"/><circle cx="1396.50" cy="620.50" r="5.5" fill="#f59e0b"/><circle cx="1240.50" cy="380.50" r="5.5" fill="#f59e0b"/><circle cx="1366.50" cy="583.50" r="5.5" fill="#f59e0b"/><circle cx="1382.50" cy="571.50" r="5.5" fill="#f59e0b"/><circle cx="1341.50" cy="491.50" r="5.5" fill="#f59e0b"/></g>
<path d="M1633.5 152.3 L1621.2 180.1 L1607.8 208.8 L1594.5 236 L1582.8 258.5 L1569.4 282.8 L1557.8 302.7 L1546.1 321.3 L1534.4 338.5 L1522.7 354.5 L1516 363 L1511 369.1 L1506 374.9 L1499.3 382.2 L1494.3 387.5 L1487.6 394 L1481 400.1 L1476 404.3 L1471 408.3 L1464.3 413.1 L1457.6 417.5 L1452.6 420.4 L1447.6 423 L1440.9 426.1 L1432.6 429.3 L1427.6 430.8 L1422.6 432 L1414.2 433.4 L1409.2 433.8 L1404.2 434 L1395.9 433.6 L1390.8 433 L1385.8 432.1 L1380.8 431 L1375.8 429.5 L1370.8 427.9 L1365.8 426 L1357.5 422.2 L1349.1 417.9 L1340.8 413.1 L1332.4 407.7 L1324.1 402 L1315.7 396 L1287.4 374.7 L1277.3 367.3 L1265.7 359.2 L1255.6 352.9 L1245.6 347.3 L1240.6 344.8 L1235.6 342.5 L1230.6 340.4 L1225.6 338.7 L1217.3 336.4 L1212.3 335.4 L1207.2 334.7 L1202.2 334.4 L1197.2 334.4 L1192.2 334.8 L1187.2 335.6 L1182.2 336.9 L1178.9 337.9 L1173.9 339.9 L1170.5 341.5 L1166.3 343.8 L1162.2 346.4 L1157.6 349.8 L1153.8 352.9 L1150.5 355.9 L1145.5 361.1 L1140.5 367 L1135.5 373.6 L1131.4 379.7 L1127.1 386.7 L1122.7 394.7 L1118.8 402.7 L1114.3 412.6 L1110.7 421.6 L1107.1 431.6 L1103.8 441.8 L1100.9 451.5 L1098.4 460.5 L1095.5 472.5 L1092.8 484.4 L1090.5 496.4 L1088.4 508.4 L1086.6 520.4 L1084.6 535.3 L1083.2 547.3 L1081.8 562.2 L1080.6 577.2 L1079.9 589.2 L1079.1 604.1 L1078.7 619.1 L1078.4 634.1 L1078.3 649 L1078.5 664 L1078.9 681.9 L1080.3 714.9 L1082.4 747.8M1651.3 152.3 L1636.2 190.1 L1622.8 222.1 L1609.5 252.7 L1596.1 281.9 L1587.8 299.4 L1581.1 313 L1567.8 339 L1554.4 363.5 L1541.1 386.5 L1534.4 397.3 L1527.7 407.8 L1521 417.9 L1514.4 427.5 L1507.7 436.8 L1501 445.6 L1489.3 460.1 L1482.6 467.8 L1476 475 L1469.3 481.8 L1462.6 488.2 L1455.9 494.1 L1449.3 499.5 L1442.6 504.6 L1437.6 508 L1429.2 513.2 L1424.2 515.9 L1419.2 518.4 L1414.2 520.6 L1409.2 522.5 L1400.9 525.1 L1395.9 526.3 L1390.8 527.2 L1382.5 528.1 L1374.2 528.2 L1369.1 528 L1364.1 527.4 L1359.1 526.6 L1354.1 525.5 L1349.1 524.1 L1344.1 522.5 L1339.1 520.7 L1334.1 518.6 L1324.1 513.8 L1314.1 508.2 L1304.1 502.1 L1294 495.4 L1269 478.3 L1260.7 472.9 L1254 468.8 L1245.6 464.2 L1238.2 460.5 L1230.6 457.4 L1223.9 455.3 L1220.6 454.4 L1215.6 453.5 L1208.9 452.9 L1203.9 453 L1200.6 453.4 L1197.2 453.9 L1193.9 454.7 L1190.6 455.8 L1187.2 457.2 L1183.9 458.8 L1180.5 460.8 L1177.2 463.1 L1173.9 465.8 L1170.5 468.9 L1167.2 472.3 L1163.9 476.3 L1160.5 480.7 L1157.2 485.7 L1154.4 490.4 L1152.2 494.4 L1148.8 501.2 L1145.7 508.4 L1143.8 513 L1141.1 520.4 L1139.2 526.3 L1137.1 533 L1134.9 541.3 L1131.4 556.3 L1129.6 565.2 L1128.1 574.2 L1125.5 592.2 L1123.5 610.1 L1122 631.1 L1121.1 652 L1120.7 673 L1120.9 696.9 L1121.6 720.8 L1123 747.8" fill="none" stroke="#7c3aed" stroke-width="2.08333" stroke-dasharray="7.71 3.33"/>
<path d="M1642.7 152.3 L1629.5 183.7 L1616.2 214.2 L1602.8 243.2 L1589.5 270.8 L1576.1 296.8 L1562.8 321.2 L1556.1 332.8 L1549.4 344 L1537.7 362.7 L1531 372.7 L1524.4 382.4 L1512.7 398.3 L1506 406.7 L1499.3 414.8 L1492.7 422.3 L1487.6 427.7 L1481 434.5 L1474.3 440.9 L1467.6 446.7 L1462.6 450.8 L1455.9 455.8 L1450.9 459.3 L1445.9 462.5 L1439.2 466.3 L1434.2 468.8 L1429.2 471.1 L1424.2 473.1 L1419.2 474.8 L1414.2 476.2 L1409.2 477.3 L1400.9 478.5 L1395.9 478.8 L1390.8 478.9 L1385.8 478.7 L1380.8 478.2 L1375.8 477.4 L1370.8 476.3 L1365.8 475 L1360.8 473.4 L1352.5 470.2 L1344.1 466.4 L1335.8 461.9 L1325.8 455.9 L1317.4 450.4 L1309.1 444.6 L1279 422.4 L1269.6 415.6 L1260.7 409.5 L1250.6 403.3 L1240.6 397.9 L1232.3 394.1 L1223.9 391.1 L1218.9 389.6 L1215.6 388.9 L1210.6 388.1 L1207.2 387.7 L1202.2 387.5 L1198.9 387.6 L1193.9 388.1 L1190.6 388.7 L1187.2 389.5 L1183.9 390.5 L1180.5 391.8 L1175.5 394.1 L1172.2 396 L1168.9 398.1 L1165.5 400.6 L1162.2 403.3 L1158.8 406.4 L1155.5 409.8 L1150.5 415.6 L1147.2 420 L1142.2 427.3 L1138.8 432.9 L1135.5 439 L1132.1 445.7 L1128.8 453.2 L1125.5 461.4 L1122.1 470.5 L1119.5 478.5 L1116.8 487.4 L1114.4 496.4 L1112.1 505.8 L1109.6 517.4 L1107.3 529.3 L1105.8 538.3 L1102.8 559.3 L1101.5 571.2 L1100.3 583.2 L1098.6 607.1 L1098 619.1 L1097.6 634.1 L1097.3 661 L1097.7 687.9 L1098.9 717.9 L1100.8 747.8" fill="none" stroke="#1e293b" stroke-width="3.75" stroke-linejoin="round"/>
</g>
<path d="M895 152V748H1728" fill="none" stroke="#cbd5e1" stroke-width="2" stroke-linecap="square" stroke-linejoin="miter"/>
<g clip-path="url(#c2)">
<rect x="38" y="820" width="832" height="596" fill="#eff2f7"/>
<path d="M267.8 1412.5 L268.4 1417.5 L872.4 1417.5 L872.4 818 L664.8 818 L664.6 873.9 L664.3 897.8 L663.3 924.7 L661.7 948.7 L659.2 972.6 L656 993.6 L651.8 1014.5 L647.1 1032.5 L644.3 1041.4 L641.2 1050.4 L637.7 1059.4 L633.4 1069.3 L629.4 1077.4 L624.5 1086.3 L620 1093.5 L615 1100.8 L610 1107.3 L604.9 1113.3 L599.2 1119.2 L593.3 1124.6 L588.3 1128.7 L581.6 1133.4 L575.3 1137.2 L569.9 1139.9 L561.6 1143.3 L553.2 1145.8 L544.9 1147.3 L536.6 1147.9 L528.2 1147.7 L519.9 1146.5 L511.5 1144.6 L501.5 1141.2 L494.8 1138.3 L486.5 1134 L479.8 1130.1 L471.5 1124.7 L456.4 1113.8 L424.7 1089.1 L416.4 1083.1 L408 1077.6 L399.7 1072.9 L391.3 1068.9 L383 1065.8 L374.7 1063.6 L366.3 1062.5 L358 1062.5 L349.6 1063.5 L341.3 1065.7 L332.9 1069 L324.6 1073.7 L316.2 1079.8 L309.6 1085.8 L304.6 1091 L299.5 1097 L294.5 1103.8 L291.2 1108.8 L286.8 1116.3 L283.5 1122.2 L280.6 1128.2 L276.7 1137.2 L271.2 1152.2 L268.4 1161.1 L266 1170.1 L262 1188.1 L260.4 1197.1 L258.6 1209 L256.4 1230 L255.1 1253.9 L254.8 1277.8 L255.5 1304.8 L257.2 1331.7 L260.1 1361.6 L263.7 1388.6 L267.8 1412.5Z" fill="#fef8e0" fill-rule="evenodd"/>
<g stroke="#ffffff" stroke-width="1.25"><circle cx="530.50" cy="1205.50" r="5.5" fill="#2563eb"/><circle cx="447.50" cy="1067.50" r="5.5" fill="#2563eb"/><circle cx="258.50" cy="1098.50" r="5.5" fill="#2563eb"/><circle cx="492.50" cy="1020.50" r="5.5" fill="#2563eb"/><circle cx="199.50" cy="985.50" r="5.5" fill="#2563eb"/><circle cx="449.50" cy="1026.50" r="5.5" fill="#2563eb"/><circle cx="507.50" cy="1095.50" r="5.5" fill="#2563eb"/><circle cx="234.50" cy="1071.50" r="5.5" fill="#2563eb"/><circle cx="352.50" cy="918.50" r="5.5" fill="#2563eb"/><circle cx="162.50" cy="1184.50" r="5.5" fill="#2563eb"/><circle cx="257.50" cy="983.50" r="5.5" fill="#2563eb"/><circle cx="541.50" cy="1038.50" r="5.5" fill="#2563eb"/><circle cx="268.50" cy="1048.50" r="5.5" fill="#2563eb"/><circle cx="268.50" cy="985.50" r="5.5" fill="#2563eb"/><circle cx="307.50" cy="985.50" r="5.5" fill="#2563eb"/><circle cx="501.50" cy="1108.50" r="5.5" fill="#2563eb"/><circle cx="533.50" cy="1044.50" r="5.5" fill="#2563eb"/><circle cx="313.50" cy="1039.50" r="5.5" fill="#2563eb"/><circle cx="358.50" cy="1002.50" r="5.5" fill="#2563eb"/><circle cx="432.50" cy="984.50" r="5.5" fill="#2563eb"/><circle cx="557.50" cy="1158.50" r="5.5" fill="#2563eb"/><circle cx="509.50" cy="1030.50" r="5.5" fill="#2563eb"/><circle cx="204.50" cy="1077.50" r="5.5" fill="#2563eb"/><circle cx="521.50" cy="1071.50" r="5.5" fill="#2563eb"/><circle cx="486.50" cy="943.50" r="5.5" fill="#2563eb"/><circle cx="124.50" cy="1053.50" r="5.5" fill="#2563eb"/><circle cx="174.50" cy="1038.50" r="5.5" fill="#2563eb"/><circle cx="390.50" cy="945.50" r="5.5" fill="#2563eb"/><circle cx="186.50" cy="1065.50" r="5.5" fill="#2563eb"/><circle cx="472.50" cy="1014.50" r="5.5" fill="#2563eb"/><circle cx="323.50" cy="965.50" r="5.5" fill="#2563eb"/><circle cx="201.50" cy="1111.50" r="5.5" fill="#2563eb"/><circle cx="176.50" cy="1042.50" r="5.5" fill="#2563eb"/><circle cx="526.50" cy="1045.50" r="5.5" fill="#2563eb"/><circle cx="332.50" cy="897.50" r="5.5" fill="#2563eb"/><circle cx="247.50" cy="1161.50" r="5.5" fill="#2563eb"/><circle cx="367.50" cy="985.50" r="5.5" fill="#2563eb"/><circle cx="503.50" cy="1047.50" r="5.5" fill="#2563eb"/><circle cx="572.50" cy="1084.50" r="5.5" fill="#2563eb"/><circle cx="167.50" cy="1096.50" r="5.5" fill="#2563eb"/><circle cx="346.50" cy="972.50" r="5.5" fill="#2563eb"/><circle cx="236.50" cy="1082.50" r="5.5" fill="#2563eb"/><circle cx="390.50" cy="989.50" r="5.5" fill="#2563eb"/><circle cx="368.50" cy="978.50" r="5.5" fill="#2563eb"/><circle cx="301.50" cy="983.50" r="5.5" fill="#2563eb"/><circle cx="295.50" cy="987.50" r="5.5" fill="#2563eb"/><circle cx="555.50" cy="1101.50" r="5.5" fill="#2563eb"/><circle cx="289.50" cy="999.50" r="5.5" fill="#2563eb"/><circle cx="172.50" cy="1085.50" r="5.5" fill="#2563eb"/><circle cx="325.50" cy="1005.50" r="5.5" fill="#2563eb"/><circle cx="540.50" cy="1039.50" r="5.5" fill="#2563eb"/><circle cx="535.50" cy="1160.50" r="5.5" fill="#2563eb"/><circle cx="362.50" cy="957.50" r="5.5" fill="#2563eb"/><circle cx="294.50" cy="985.50" r="5.5" fill="#2563eb"/><circle cx="495.50" cy="1023.50" r="5.5" fill="#2563eb"/><circle cx="520.50" cy="1079.50" r="5.5" fill="#2563eb"/><circle cx="489.50" cy="1158.50" r="5.5" fill="#2563eb"/><circle cx="199.50" cy="1056.50" r="5.5" fill="#2563eb"/><circle cx="501.50" cy="1026.50" r="5.5" fill="#2563eb"/><circle cx="547.50" cy="1029.50" r="5.5" fill="#2563eb"/><circle cx="342.50" cy="995.50" r="5.5" fill="#2563eb"/><circle cx="470.50" cy="1097.50" r="5.5" fill="#2563eb"/><circle cx="305.50" cy="1083.50" r="5.5" fill="#2563eb"/><circle cx="137.50" cy="1203.50" r="5.5" fill="#2563eb"/><circle cx="253.50" cy="1061.50" r="5.5" fill="#2563eb"/><circle cx="130.50" cy="1127.50" r="5.5" fill="#2563eb"/><circle cx="493.50" cy="976.50" r="5.5" fill="#2563eb"/><circle cx="618.50" cy="1114.50" r="5.5" fill="#2563eb"/><circle cx="572.50" cy="1082.50" r="5.5" fill="#2563eb"/><circle cx="339.50" cy="931.50" r="5.5" fill="#2563eb"/><circle cx="377.50" cy="982.50" r="5.5" fill="#2563eb"/><circle cx="442.50" cy="1005.50" r="5.5" fill="#2563eb"/><circle cx="193.50" cy="1005.50" r="5.5" fill="#2563eb"/><circle cx="226.50" cy="1072.50" r="5.5" fill="#2563eb"/><circle cx="544.50" cy="1086.50" r="5.5" fill="#2563eb"/><circle cx="188.50" cy="1150.50" r="5.5" fill="#2563eb"/><circle cx="332.50" cy="998.50" r="5.5" fill="#2563eb"/><circle cx="436.50" cy="952.50" r="5.5" fill="#2563eb"/><circle cx="206.50" cy="996.50" r="5.5" fill="#2563eb"/><circle cx="530.50" cy="1052.50" r="5.5" fill="#2563eb"/><circle cx="556.50" cy="1105.50" r="5.5" fill="#2563eb"/><circle cx="327.50" cy="970.50" r="5.5" fill="#2563eb"/><circle cx="615.50" cy="1146.50" r="5.5" fill="#2563eb"/><circle cx="436.50" cy="931.50" r="5.5" fill="#2563eb"/><circle cx="546.50" cy="1049.50" r="5.5" fill="#2563eb"/><circle cx="264.50" cy="994.50" r="5.5" fill="#2563eb"/><circle cx="549.50" cy="980.50" r="5.5" fill="#2563eb"/><circle cx="587.50" cy="999.50" r="5.5" fill="#2563eb"/><circle cx="222.50" cy="1000.50" r="5.5" fill="#2563eb"/><circle cx="467.50" cy="930.50" r="5.5" fill="#2563eb"/><circle cx="169.50" cy="1143.50" r="5.5" fill="#2563eb"/><circle cx="279.50" cy="964.50" r="5.5" fill="#2563eb"/><circle cx="563.50" cy="1100.50" r="5.5" fill="#2563eb"/><circle cx="415.50" cy="977.50" r="5.5" fill="#2563eb"/><circle cx="253.50" cy="1089.50" r="5.5" fill="#2563eb"/><circle cx="370.50" cy="988.50" r="5.5" fill="#2563eb"/><circle cx="518.50" cy="971.50" r="5.5" fill="#2563eb"/><circle cx="310.50" cy="1015.50" r="5.5" fill="#2563eb"/><circle cx="269.50" cy="895.50" r="5.5" fill="#2563eb"/><circle cx="437.50" cy="1051.50" r="5.5" fill="#2563eb"/><circle cx="333.50" cy="996.50" r="5.5" fill="#2563eb"/><circle cx="524.50" cy="1029.50" r="5.5" fill="#2563eb"/><circle cx="359.50" cy="950.50" r="5.5" fill="#2563eb"/><circle cx="233.50" cy="1013.50" r="5.5" fill="#2563eb"/><circle cx="230.50" cy="994.50" r="5.5" fill="#2563eb"/><circle cx="174.50" cy="1106.50" r="5.5" fill="#2563eb"/><circle cx="211.50" cy="1095.50" r="5.5" fill="#2563eb"/><circle cx="530.50" cy="1118.50" r="5.5" fill="#2563eb"/><circle cx="506.50" cy="1022.50" r="5.5" fill="#2563eb"/><circle cx="402.50" cy="907.50" r="5.5" fill="#2563eb"/><circle cx="467.50" cy="931.50" r="5.5" fill="#2563eb"/><circle cx="504.50" cy="1068.50" r="5.5" fill="#2563eb"/><circle cx="185.50" cy="1087.50" r="5.5" fill="#2563eb"/><circle cx="359.50" cy="1006.50" r="5.5" fill="#2563eb"/><circle cx="568.50" cy="1054.50" r="5.5" fill="#2563eb"/><circle cx="526.50" cy="1121.50" r="5.5" fill="#2563eb"/><circle cx="444.50" cy="1014.50" r="5.5" fill="#2563eb"/><circle cx="149.50" cy="1167.50" r="5.5" fill="#2563eb"/><circle cx="456.50" cy="1043.50" r="5.5" fill="#2563eb"/><circle cx="481.50" cy="949.50" r="5.5" fill="#2563eb"/><circle cx="261.50" cy="1035.50" r="5.5" fill="#2563eb"/><circle cx="425.50" cy="1022.50" r="5.5" fill="#2563eb"/><circle cx="372.50" cy="953.50" r="5.5" fill="#2563eb"/><circle cx="232.50" cy="1112.50" r="5.5" fill="#2563eb"/><circle cx="222.50" cy="1171.50" r="5.5" fill="#2563eb"/><circle cx="178.50" cy="1051.50" r="5.5" fill="#2563eb"/><circle cx="413.50" cy="915.50" r="5.5" fill="#2563eb"/><circle cx="467.50" cy="1019.50" r="5.5" fill="#2563eb"/><circle cx="263.50" cy="1069.50" r="5.5" fill="#2563eb"/><circle cx="182.50" cy="1124.50" r="5.5" fill="#2563eb"/><circle cx="664.50" cy="1172.50" r="5.5" fill="#f59e0b"/><circle cx="665.50" cy="1238.50" r="5.5" fill="#f59e0b"/><circle cx="651.50" cy="1246.50" r="5.5" fill="#f59e0b"/><circle cx="406.50" cy="1164.50" r="5.5" fill="#f59e0b"/><circle cx="660.50" cy="1212.50" r="5.5" fill="#f59e0b"/><circle cx="593.50" cy="1270.50" r="5.5" fill="#f59e0b"/><circle cx="753.50" cy="1194.50" r="5.5" fill="#f59e0b"/><circle cx="707.50" cy="1046.50" r="5.5" fill="#f59e0b"/><circle cx="435.50" cy="1233.50" r="5.5" fill="#f59e0b"/><circle cx="356.50" cy="1132.50" r="5.5" fill="#f59e0b"/><circle cx="389.50" cy="1229.50" r="5.5" fill="#f59e0b"/><circle cx="705.50" cy="1075.50" r="5.5" fill="#f59e0b"/><circle cx="314.50" cy="1033.50" r="5.5" fill="#f59e0b"/><circle cx="552.50" cy="1157.50" r="5.5" fill="#f59e0b"/><circle cx="443.50" cy="1266.50" r="5.5" fill="#f59e0b"/><circle cx="326.50" cy="1183.50" r="5.5" fill="#f59e0b"/><circle cx="731.50" cy="1183.50" r="5.5" fill="#f59e0b"/><circle cx="747.50" cy="1039.50" r="5.5" fill="#f59e0b"/><circle cx="629.50" cy="1194.50" r="5.5" fill="#f59e0b"/><circle cx="399.50" cy="1147.50" r="5.5" fill="#f59e0b"/><circle cx="735.50" cy="1202.50" r="5.5" fill="#f59e0b"/><circle cx="502.50" cy="1254.50" r="5.5" fill="#f59e0b"/><circle cx="511.50" cy="1289.50" r="5.5" fill="#f59e0b"/><circle cx="554.50" cy="1196.50" r="5.5" fill="#f59e0b"/><circle cx="665.50" cy="1076.50" r="5.5" fill="#f59e0b"/><circle cx="752.50" cy="1145.50" r="5.5" fill="#f59e0b"/><circle cx="450.50" cy="1149.50" r="5.5" fill="#f59e0b"/><circle cx="699.50" cy="1114.50" r="5.5" fill="#f59e0b"/><circle cx="515.50" cy="1257.50" r="5.5" fill="#f59e0b"/><circle cx="712.50" cy="1210.50" r="5.5" fill="#f59e0b"/><circle cx="679.50" cy="1163.50" r="5.5" fill="#f59e0b"/><circle cx="776.50" cy="1032.50" r="5.5" fill="#f59e0b"/><circle cx="286.50" cy="1111.50" r="5.5" fill="#f59e0b"/><circle cx="647.50" cy="1106.50" r="5.5" fill="#f59e0b"/><circle cx="584.50" cy="1210.50" r="5.5" fill="#f59e0b"/><circle cx="309.50" cy="1145.50" r="5.5" fill="#f59e0b"/><circle cx="733.50" cy="1122.50" r="5.5" fill="#f59e0b"/><circle cx="550.50" cy="1227.50" r="5.5" fill="#f59e0b"/><circle cx="670.50" cy="1217.50" r="5.5" fill="#f59e0b"/><circle cx="631.50" cy="1185.50" r="5.5" fill="#f59e0b"/><circle cx="339.50" cy="1106.50" r="5.5" fill="#f59e0b"/><circle cx="743.50" cy="1065.50" r="5.5" fill="#f59e0b"/><circle cx="423.50" cy="1244.50" r="5.5" fill="#f59e0b"/><circle cx="369.50" cy="1198.50" r="5.5" fill="#f59e0b"/><circle cx="519.50" cy="1257.50" r="5.5" fill="#f59e0b"/><circle cx="716.50" cy="1035.50" r="5.5" fill="#f59e0b"/><circle cx="642.50" cy="1280.50" r="5.5" fill="#f59e0b"/><circle cx="778.50" cy="1053.50" r="5.5" fill="#f59e0b"/><circle cx="582.50" cy="1252.50" r="5.5" fill="#f59e0b"/><circle cx="582.50" cy="1195.50" r="5.5" fill="#f59e0b"/><circle cx="688.50" cy="1286.50" r="5.5" fill="#f59e0b"/><circle cx="482.50" cy="1151.50" r="5.5" fill="#f59e0b"/><circle cx="270.50" cy="1093.50" r="5.5" fill="#f59e0b"/><circle cx="532.50" cy="1228.50" r="5.5" fill="#f59e0b"/><circle cx="604.50" cy="1261.50" r="5.5" fill="#f59e0b"/><circle cx="353.50" cy="1128.50" r="5.5" fill="#f59e0b"/><circle cx="657.50" cy="1203.50" r="5.5" fill="#f59e0b"/><circle cx="403.50" cy="1097.50" r="5.5" fill="#f59e0b"/><circle cx="336.50" cy="1153.50" r="5.5" fill="#f59e0b"/><circle cx="662.50" cy="1131.50" r="5.5" fill="#f59e0b"/><circle cx="793.50" cy="1100.50" r="5.5" fill="#f59e0b"/><circle cx="685.50" cy="1233.50" r="5.5" fill="#f59e0b"/><circle cx="351.50" cy="1208.50" r="5.5" fill="#f59e0b"/><circle cx="384.50" cy="1103.50" r="5.5" fill="#f59e0b"/><circle cx="598.50" cy="1150.50" r="5.5" fill="#f59e0b"/><circle cx="337.50" cy="1214.50" r="5.5" fill="#f59e0b"/><circle cx="397.50" cy="1120.50" r="5.5" fill="#f59e0b"/><circle cx="694.50" cy="1175.50" r="5.5" fill="#f59e0b"/><circle cx="602.50" cy="1267.50" r="5.5" fill="#f59e0b"/><circle cx="640.50" cy="1204.50" r="5.5" fill="#f59e0b"/><circle cx="397.50" cy="1047.50" r="5.5" fill="#f59e0b"/><circle cx="627.50" cy="1113.50" r="5.5" fill="#f59e0b"/><circle cx="713.50" cy="1107.50" r="5.5" fill="#f59e0b"/><circle cx="362.50" cy="1135.50" r="5.5" fill="#f59e0b"/><circle cx="734.50" cy="1127.50" r="5.5" fill="#f59e0b"/><circle cx="357.50" cy="1125.50" r="5.5" fill="#f59e0b"/><circle cx="360.50" cy="1163.50" r="5.5" fill="#f59e0b"/><circle cx="427.50" cy="1211.50" r="5.5" fill="#f59e0b"/><circle cx="669.50" cy="1248.50" r="5.5" fill="#f59e0b"/><circle cx="756.50" cy="1191.50" r="5.5" fill="#f59e0b"/><circle cx="633.50" cy="1184.50" r="5.5" fill="#f59e0b"/><circle cx="668.50" cy="1142.50" r="5.5" fill="#f59e0b"/><circle cx="594.50" cy="1215.50" r="5.5" fill="#f59e0b"/><circle cx="530.50" cy="1282.50" r="5.5" fill="#f59e0b"/><circle cx="523.50" cy="1266.50" r="5.5" fill="#f59e0b"/><circle cx="543.50" cy="1247.50" r="5.5" fill="#f59e0b"/><circle cx="373.50" cy="995.50" r="5.5" fill="#f59e0b"/><circle cx="500.50" cy="1215.50" r="5.5" fill="#f59e0b"/><circle cx="406.50" cy="1217.50" r="5.5" fill="#f59e0b"/><circle cx="493.50" cy="1192.50" r="5.5" fill="#f59e0b"/><circle cx="746.50" cy="1103.50" r="5.5" fill="#f59e0b"/><circle cx="555.50" cy="1166.50" r="5.5" fill="#f59e0b"/><circle cx="695.50" cy="1213.50" r="5.5" fill="#f59e0b"/><circle cx="609.50" cy="1174.50" r="5.5" fill="#f59e0b"/><circle cx="523.50" cy="1260.50" r="5.5" fill="#f59e0b"/><circle cx="545.50" cy="1246.50" r="5.5" fill="#f59e0b"/><circle cx="735.50" cy="1197.50" r="5.5" fill="#f59e0b"/><circle cx="392.50" cy="1167.50" r="5.5" fill="#f59e0b"/><circle cx="402.50" cy="1193.50" r="5.5" fill="#f59e0b"/><circle cx="522.50" cy="1186.50" r="5.5" fill="#f59e0b"/><circle cx="332.50" cy="1142.50" r="5.5" fill="#f59e0b"/><circle cx="726.50" cy="1048.50" r="5.5" fill="#f59e0b"/><circle cx="463.50" cy="1238.50" r="5.5" fill="#f59e0b"/><circle cx="567.50" cy="1279.50" r="5.5" fill="#f59e0b"/><circle cx="373.50" cy="1122.50" r="5.5" fill="#f59e0b"/><circle cx="685.50" cy="1148.50" r="5.5" fill="#f59e0b"/><circle cx="427.50" cy="1203.50" r="5.5" fill="#f59e0b"/><circle cx="417.50" cy="1208.50" r="5.5" fill="#f59e0b"/><circle cx="421.50" cy="1153.50" r="5.5" fill="#f59e0b"/><circle cx="444.50" cy="1221.50" r="5.5" fill="#f59e0b"/><circle cx="464.50" cy="1189.50" r="5.5" fill="#f59e0b"/><circle cx="690.50" cy="1044.50" r="5.5" fill="#f59e0b"/><circle cx="444.50" cy="1220.50" r="5.5" fill="#f59e0b"/><circle cx="355.50" cy="1052.50" r="5.5" fill="#f59e0b"/><circle cx="755.50" cy="1044.50" r="5.5" fill="#f59e0b"/><circle cx="550.50" cy="1283.50" r="5.5" fill="#f59e0b"/><circle cx="612.50" cy="1168.50" r="5.5" fill="#f59e0b"/><circle cx="478.50" cy="1192.50" r="5.5" fill="#f59e0b"/><circle cx="570.50" cy="1190.50" r="5.5" fill="#f59e0b"/><circle cx="364.50" cy="1128.50" r="5.5" fill="#f59e0b"/><circle cx="672.50" cy="1152.50" r="5.5" fill="#f59e0b"/><circle cx="323.50" cy="1064.50" r="5.5" fill="#f59e0b"/><circle cx="691.50" cy="1175.50" r="5.5" fill="#f59e0b"/><circle cx="497.50" cy="1208.50" r="5.5" fill="#f59e0b"/><circle cx="413.50" cy="1224.50" r="5.5" fill="#f59e0b"/><circle cx="538.50" cy="1288.50" r="5.5" fill="#f59e0b"/><circle cx="383.50" cy="1048.50" r="5.5" fill="#f59e0b"/><circle cx="509.50" cy="1250.50" r="5.5" fill="#f59e0b"/><circle cx="524.50" cy="1239.50" r="5.5" fill="#f59e0b"/><circle cx="484.50" cy="1158.50" r="5.5" fill="#f59e0b"/></g>
<path d="M127.6 1239 L122.6 1237.2 L119.3 1235.8 L114.3 1233.2 L110.9 1231.1 L105.9 1227.5 L102.6 1224.8 L99.3 1221.8 L95.5 1218 L90.9 1212.8 L87.9 1209 L84.2 1203.8 L81.8 1200 L78.3 1194.1 L75.9 1189.6 L73.7 1185.1 L71.1 1179.1 L68.8 1173.1 L66.7 1167.1 L64.9 1161.1 L63.3 1155.2 L60.7 1143.2 L59 1131.2 L57.9 1119.2 L57.7 1113.3 L57.6 1104.3 L58 1092.3 L58.4 1086.3 L59.4 1077.4 L60.2 1071.4 L61.7 1062.4 L64.2 1050.4 L66.5 1041.4 L68.2 1035.5 L72 1023.5 L74.2 1017.4 L77.6 1008.9 L83 996.6 L88.9 984.6 L95.6 972.6 L103 960.6 L111.3 948.7 L115.8 942.7 L120.5 936.7 L129.3 926.5 L139.3 916 L149.1 906.8 L159.3 898.1 L169.4 890.5 L174.4 887 L181 882.6 L192.7 875.6 L204.4 869.6 L211.1 866.6 L217.8 863.8 L224.4 861.2 L231.1 859 L237.8 856.9 L244.5 855.1 L251.1 853.6 L257.8 852.2 L264.5 851.1 L271.2 850.2 L281.2 849.2 L291.2 848.6 L301.2 848.4 L312.9 848.6 L331.3 849.6 L368 852.7 L388 854 L403 854.7 L438.1 855.6 L453.1 856.2 L464.8 857 L474.8 858 L484.8 859.4 L494.8 861.1 L504.8 863.4 L513.2 865.8 L521.5 868.6 L529.9 872 L538.2 876 L544.9 879.7 L551.6 884 L558.3 888.9 L564.9 894.5 L571.3 900.8 L576.6 906.9 L581.6 913.4 L585 918.4 L588.3 923.9 L590.4 927.7 L593.3 933.7 L595.9 939.7 L598.1 945.7 L600 951.7 L601.7 957.6 L603 963.6 L604.1 969.6 L604.9 975.6 L605.5 981.6 L605.9 987.6 L606 993.6 L605.9 999.5 L605.6 1005.5 L605 1011.5 L604.1 1017.5 L603 1023.5 L601.7 1029.5 L600 1035.5 L598 1041.4 L595.7 1047.4 L593 1053.4 L590 1059.3 L588.2 1062.4 L585 1067.3 L581.6 1071.9 L578.3 1075.9 L574 1080.3 L570.7 1083.3 L566.6 1086.6 L563.3 1089 L559.9 1091 L556.6 1092.8 L553.2 1094.3 L549.9 1095.6 L546.6 1096.7 L543.2 1097.5 L538.2 1098.4 L531.5 1098.9 L528.2 1098.8 L523.2 1098.5 L519.9 1098 L514.9 1096.9 L509.9 1095.5 L506.5 1094.3 L501.7 1092.3 L498.2 1090.7 L490.2 1086.3 L481.5 1080.7 L473.1 1074.4 L465.9 1068.4 L455.8 1059.4 L429.7 1034.3 L423.1 1028.1 L416.4 1022.2 L409.7 1016.6 L404.7 1012.8 L398 1008.1 L391.3 1004 L384.7 1000.6 L378 997.8 L373 996.3 L369.6 995.4 L363 994.3 L356.3 993.9 L353 993.9 L348 994.3 L341.3 995.5 L337.9 996.3 L332.9 997.9 L329.6 999.1 L324.6 1001.3 L319.6 1003.8 L314.6 1006.7 L309.6 1009.9 L306.2 1012.3 L297.9 1018.9 L292.9 1023.4 L287.9 1028.3 L279.5 1037.3 L271.2 1047.5 L266.7 1053.4 L262.8 1059 L256.2 1069.2 L249.5 1080.3 L243 1092.3 L237.1 1104.3 L231.5 1116.3 L226.2 1128.2 L211.1 1164.4 L206.1 1176.1 L201.1 1187 L197.7 1193.7 L192.7 1202.9 L189.4 1208.4 L184.9 1215 L181 1219.9 L176 1225.4 L172.7 1228.5 L169.4 1231.2 L166 1233.5 L162.7 1235.5 L159.3 1237.2 L156 1238.5 L152.7 1239.5 L149.3 1240.3 L146 1240.8 L142.7 1241 L139.3 1241 L136 1240.7 L132.6 1240.2 L127.6 1239M546.6 1364.7 L558.3 1365.2 L568.3 1365.4 L578.3 1365.4 L588.3 1365.2 L598.3 1364.6 L606.7 1363.9 L616.7 1362.8 L625 1361.6 L635 1359.7 L643.4 1357.9 L651.7 1355.8 L660.1 1353.3 L668.4 1350.6 L676.8 1347.5 L683.4 1344.7 L691.8 1341 L700.1 1336.9 L708.5 1332.3 L716.8 1327.4 L723.5 1323.1 L731.8 1317.3 L738.5 1312.3 L745.2 1307 L751.9 1301.3 L758.5 1295.2 L765.2 1288.7 L771.9 1281.8 L778.1 1274.9 L783.6 1268.4 L790.3 1259.9 L795.3 1253.1 L800.9 1244.9 L806.6 1236 L811.9 1227 L816.8 1218 L821.2 1209 L825.3 1200 L829 1191.1 L832.3 1182.1 L835.3 1173.1 L837.9 1164.1 L840.9 1152.2 L842.7 1143.2 L844.2 1134.2 L845.3 1125.2 L846.1 1116.3 L846.5 1107.3 L846.5 1098.3 L846.1 1089.3 L845.3 1080.3 L844 1071.4 L842.4 1062.4 L840.3 1054 L838.4 1047.4 L835.3 1038.6 L832.8 1032.5 L828.6 1023.9 L825.3 1017.9 L821.2 1011.5 L817 1005.8 L812 999.9 L806.9 994.9 L801.9 990.7 L796.9 987 L792.9 984.6 L788.6 982.4 L785.2 981 L780.2 979.3 L776.9 978.5 L771.9 977.7 L766.9 977.4 L763.6 977.6 L758.5 978.3 L755.2 979.1 L750.2 980.8 L746.9 982.3 L741.9 985.2 L738.5 987.5 L735.2 990.1 L731.8 993.1 L726.8 998.2 L721.8 1004.2 L716.8 1011.1 L711.8 1018.8 L706.8 1027.2 L701.8 1036.3 L679.2 1080.3 L672.8 1092.3 L667.8 1101.3 L660.6 1113.3 L653.4 1124.4 L646.7 1133.9 L640 1142.6 L631.7 1152.5 L623.3 1161.4 L615 1169.3 L610 1173.6 L605 1177.6 L596.6 1183.6 L591.6 1186.8 L586.6 1189.7 L581.6 1192.3 L576.6 1194.6 L568.3 1197.9 L559.9 1200.4 L551.6 1202.1 L543.2 1203 L534.9 1203.2 L526.5 1202.6 L518.2 1201.1 L509.9 1198.9 L501.5 1195.9 L494.8 1193 L488.2 1189.6 L481.5 1185.8 L473.1 1180.5 L468.1 1177.1 L459.8 1171 L427.5 1146.2 L419.1 1140.2 L411.4 1135.2 L404.5 1131.2 L396.4 1127.3 L389.7 1124.7 L383 1122.9 L379.6 1122.2 L374.7 1121.7 L371.3 1121.6 L368 1121.7 L363.2 1122.2 L359.6 1123 L356.3 1124 L353 1125.3 L349.6 1126.9 L346.3 1128.8 L342.9 1131.1 L339.6 1133.8 L336.3 1137 L333.3 1140.2 L330.9 1143.2 L328.8 1146.2 L326.3 1150.2 L323.5 1155.2 L321.2 1160 L319.5 1164.1 L316.5 1173.1 L315 1179.1 L313.8 1185.1 L312.5 1194.1 L312 1200 L311.8 1206 L311.8 1212 L312.1 1218 L312.6 1224 L313.3 1230 L314.3 1236 L315.6 1241.9 L317.9 1250.9 L319.9 1256.9 L322.1 1262.9 L326.3 1272.3 L329.1 1277.8 L331.3 1281.6 L334.5 1286.8 L337.9 1291.9 L341.3 1296.3 L344.6 1300.4 L351.3 1307.6 L358 1313.8 L365.2 1319.7 L373 1325.2 L381.3 1330.3 L389.7 1334.7 L399.7 1339.3 L409.7 1343.1 L421.4 1346.9 L433.1 1350 L444.8 1352.6 L458.1 1355.1 L473.1 1357.5 L489.8 1359.6 L509.9 1361.8 L529.9 1363.6 L546.6 1364.7" fill="none" stroke="#10b981" stroke-width="2.08333" stroke-dasharray="7.71 3.33"/>
<path d="M664.8 820 L664.6 873.9 L664.3 894.8 L663.6 918.8 L662.4 939.7 L660.6 960.6 L659.2 972.6 L657.9 981.6 L656 993.6 L654.3 1002.5 L652.5 1011.5 L650.3 1020.5 L647.9 1029.5 L645.3 1038.4 L642.3 1047.4 L638.9 1056.4 L635.1 1065.4 L632.4 1071.4 L629.4 1077.4 L625 1085.4 L620.8 1092.3 L616.8 1098.3 L612.4 1104.3 L607.5 1110.3 L603.3 1115 L598.3 1120.1 L593.3 1124.6 L588.3 1128.7 L584.8 1131.2 L580 1134.5 L574.9 1137.4 L569.9 1139.9 L564.9 1142.1 L559.9 1143.9 L554.9 1145.4 L549.9 1146.5 L544.9 1147.3 L539.9 1147.8 L534.9 1147.9 L529.9 1147.8 L524.9 1147.3 L519.9 1146.5 L514.9 1145.5 L509.9 1144.1 L501.5 1141.2 L493.2 1137.5 L484.8 1133.1 L474.8 1127 L466.5 1121.2 L458.1 1115.1 L433.1 1095.4 L423.1 1087.8 L413 1080.8 L408 1077.6 L403 1074.7 L398 1072 L393 1069.6 L388 1067.5 L384.7 1066.3 L379.7 1064.8 L374.7 1063.6 L369.6 1062.8 L366.3 1062.5 L361.3 1062.4 L356.3 1062.6 L351.3 1063.2 L346.3 1064.2 L341.3 1065.7 L336.3 1067.5 L331.3 1069.9 L326.3 1072.7 L321.2 1076 L317.9 1078.5 L312.9 1082.7 L309 1086.3 L304.6 1091 L300.9 1095.3 L296.3 1101.3 L292.9 1106.2 L288.5 1113.3 L285.1 1119.2 L282 1125.2 L279.3 1131.2 L276.2 1138.5 L273.2 1146.2 L271.2 1152.2 L268.4 1161.1 L266.7 1167.1 L264.5 1176.1 L262.6 1185.1 L260.9 1194.1 L259.5 1203 L258.3 1212 L256.4 1230 L255.8 1238.9 L255.2 1250.9 L254.8 1271.9 L254.8 1283.8 L255.1 1295.8 L256.3 1319.7 L257.2 1331.7 L258.5 1346.7 L261.2 1370.4 L264.5 1393.6 L266.7 1406.5 L268.4 1415.5" fill="none" stroke="#1e293b" stroke-width="3.75" stroke-linejoin="round"/>
</g>
<path d="M38 820V1416H870" fill="none" stroke="#cbd5e1" stroke-width="2" stroke-linecap="square" stroke-linejoin="miter"/>
<g clip-path="url(#c3)">
<rect x="895" y="820" width="833" height="596" fill="#eff2f7"/>
<path d="M1021.2 1417.5 L1730 1417.5 L1730 1353.8 L1727.3 1352.7 L1684.6 1283.7 L1652.9 1233.3 L1626.2 1191.7 L1601.1 1154 L1581.1 1125.1 L1562.8 1099.8 L1546.1 1078.1 L1529.4 1058 L1521 1048.5 L1512.7 1039.5 L1504.3 1031.1 L1496 1023.2 L1487.6 1015.9 L1481 1010.5 L1472.6 1004.4 L1466 1000 L1459.3 996.2 L1452.6 992.8 L1445.9 990 L1439.2 987.7 L1432.6 986 L1425.9 985 L1419.2 984.6 L1412.5 984.8 L1404.2 986.1 L1397.5 987.9 L1390.5 990.6 L1382.5 994.7 L1374.9 999.5 L1367.5 1005.2 L1360.3 1011.5 L1352.5 1019.5 L1346.1 1026.5 L1339.1 1035 L1325.8 1052.8 L1312.9 1071.4 L1280.7 1119.8 L1270.7 1134 L1262.3 1145.2 L1252.3 1157.7 L1242.3 1169.1 L1232.3 1179.4 L1222.3 1188.6 L1213.9 1195.4 L1205.6 1201.5 L1195.6 1208.1 L1185.5 1213.9 L1177.2 1218.2 L1167.2 1223 L1127.1 1240.5 L1117.1 1245.5 L1108.8 1250.3 L1100.4 1255.7 L1092.1 1262.1 L1085.4 1268 L1078.7 1274.9 L1073.7 1280.7 L1069 1286.8 L1064.9 1292.8 L1060.4 1300.1 L1053 1313.8 L1048.9 1322.7 L1045.3 1331.1 L1038.5 1349.7 L1032 1371 L1025.2 1397.5 L1021.8 1412.5 L1021.2 1417.5Z" fill="#fef8e0" fill-rule="evenodd"/>
<g stroke="#ffffff" stroke-width="1.25"><circle cx="1388.50" cy="1205.50" r="5.5" fill="#2563eb"/><circle cx="1304.50" cy="1067.50" r="5.5" fill="#2563eb"/><circle cx="1116.50" cy="1098.50" r="5.5" fill="#2563eb"/><circle cx="1350.50" cy="1020.50" r="5.5" fill="#2563eb"/><circle cx="1056.50" cy="985.50" r="5.5" fill="#2563eb"/><circle cx="1306.50" cy="1026.50" r="5.5" fill="#2563eb"/><circle cx="1365.50" cy="1095.50" r="5.5" fill="#2563eb"/><circle cx="1091.50" cy="1071.50" r="5.5" fill="#2563eb"/><circle cx="1210.50" cy="918.50" r="5.5" fill="#2563eb"/><circle cx="1020.50" cy="1184.50" r="5.5" fill="#2563eb"/><circle cx="1115.50" cy="983.50" r="5.5" fill="#2563eb"/><circle cx="1398.50" cy="1038.50" r="5.5" fill="#2563eb"/><circle cx="1126.50" cy="1048.50" r="5.5" fill="#2563eb"/><circle cx="1125.50" cy="985.50" r="5.5" fill="#2563eb"/><circle cx="1165.50" cy="985.50" r="5.5" fill="#2563eb"/><circle cx="1358.50" cy="1108.50" r="5.5" fill="#2563eb"/><circle cx="1391.50" cy="1044.50" r="5.5" fill="#2563eb"/><circle cx="1170.50" cy="1039.50" r="5.5" fill="#2563eb"/><circle cx="1216.50" cy="1002.50" r="5.5" fill="#2563eb"/><circle cx="1290.50" cy="984.50" r="5.5" fill="#2563eb"/><circle cx="1414.50" cy="1158.50" r="5.5" fill="#2563eb"/><circle cx="1367.50" cy="1030.50" r="5.5" fill="#2563eb"/><circle cx="1062.50" cy="1077.50" r="5.5" fill="#2563eb"/><circle cx="1379.50" cy="1071.50" r="5.5" fill="#2563eb"/><circle cx="1343.50" cy="943.50" r="5.5" fill="#2563eb"/><circle cx="982.50" cy="1053.50" r="5.5" fill="#2563eb"/><circle cx="1032.50" cy="1038.50" r="5.5" fill="#2563eb"/><circle cx="1248.50" cy="945.50" r="5.5" fill="#2563eb"/><circle cx="1044.50" cy="1065.50" r="5.5" fill="#2563eb"/><circle cx="1330.50" cy="1014.50" r="5.5" fill="#2563eb"/><circle cx="1181.50" cy="965.50" r="5.5" fill="#2563eb"/><circle cx="1059.50" cy="1111.50" r="5.5" fill="#2563eb"/><circle cx="1033.50" cy="1042.50" r="5.5" fill="#2563eb"/><circle cx="1383.50" cy="1045.50" r="5.5" fill="#2563eb"/><circle cx="1190.50" cy="897.50" r="5.5" fill="#2563eb"/><circle cx="1104.50" cy="1161.50" r="5.5" fill="#2563eb"/><circle cx="1225.50" cy="985.50" r="5.5" fill="#2563eb"/><circle cx="1361.50" cy="1047.50" r="5.5" fill="#2563eb"/><circle cx="1430.50" cy="1084.50" r="5.5" fill="#2563eb"/><circle cx="1024.50" cy="1096.50" r="5.5" fill="#2563eb"/><circle cx="1204.50" cy="972.50" r="5.5" fill="#2563eb"/><circle cx="1094.50" cy="1082.50" r="5.5" fill="#2563eb"/><circle cx="1248.50" cy="989.50" r="5.5" fill="#2563eb"/><circle cx="1226.50" cy="978.50" r="5.5" fill="#2563eb"/><circle cx="1158.50" cy="983.50" r="5.5" fill="#2563eb"/><circle cx="1152.50" cy="987.50" r="5.5" fill="#2563eb"/><circle cx="1413.50" cy="1101.50" r="5.5" fill="#2563eb"/><circle cx="1147.50" cy="999.50" r="5.5" fill="#2563eb"/><circle cx="1029.50" cy="1085.50" r="5.5" fill="#2563eb"/><circle cx="1182.50" cy="1005.50" r="5.5" fill="#2563eb"/><circle cx="1397.50" cy="1039.50" r="5.5" fill="#2563eb"/><circle cx="1393.50" cy="1160.50" r="5.5" fill="#2563eb"/><circle cx="1219.50" cy="957.50" r="5.5" fill="#2563eb"/><circle cx="1152.50" cy="985.50" r="5.5" fill="#2563eb"/><circle cx="1353.50" cy="1023.50" r="5.5" fill="#2563eb"/><circle cx="1377.50" cy="1079.50" r="5.5" fill="#2563eb"/><circle cx="1346.50" cy="1158.50" r="5.5" fill="#2563eb"/><circle cx="1056.50" cy="1056.50" r="5.5" fill="#2563eb"/><circle cx="1359.50" cy="1026.50" r="5.5" fill="#2563eb"/><circle cx="1404.50" cy="1029.50" r="5.5" fill="#2563eb"/><circle cx="1200.50" cy="995.50" r="5.5" fill="#2563eb"/><circle cx="1327.50" cy="1097.50" r="5.5" fill="#2563eb"/><circle cx="1162.50" cy="1083.50" r="5.5" fill="#2563eb"/><circle cx="994.50" cy="1203.50" r="5.5" fill="#2563eb"/><circle cx="1111.50" cy="1061.50" r="5.5" fill="#2563eb"/><circle cx="988.50" cy="1127.50" r="5.5" fill="#2563eb"/><circle cx="1350.50" cy="976.50" r="5.5" fill="#2563eb"/><circle cx="1476.50" cy="1114.50" r="5.5" fill="#2563eb"/><circle cx="1430.50" cy="1082.50" r="5.5" fill="#2563eb"/><circle cx="1197.50" cy="931.50" r="5.5" fill="#2563eb"/><circle cx="1234.50" cy="982.50" r="5.5" fill="#2563eb"/><circle cx="1300.50" cy="1005.50" r="5.5" fill="#2563eb"/><circle cx="1051.50" cy="1005.50" r="5.5" fill="#2563eb"/><circle cx="1083.50" cy="1072.50" r="5.5" fill="#2563eb"/><circle cx="1401.50" cy="1086.50" r="5.5" fill="#2563eb"/><circle cx="1046.50" cy="1150.50" r="5.5" fill="#2563eb"/><circle cx="1190.50" cy="998.50" r="5.5" fill="#2563eb"/><circle cx="1294.50" cy="952.50" r="5.5" fill="#2563eb"/><circle cx="1064.50" cy="996.50" r="5.5" fill="#2563eb"/><circle cx="1388.50" cy="1052.50" r="5.5" fill="#2563eb"/><circle cx="1413.50" cy="1105.50" r="5.5" fill="#2563eb"/><circle cx="1185.50" cy="970.50" r="5.5" fill="#2563eb"/><circle cx="1472.50" cy="1146.50" r="5.5" fill="#2563eb"/><circle cx="1293.50" cy="931.50" r="5.5" fill="#2563eb"/><circle cx="1403.50" cy="1049.50" r="5.5" fill="#2563eb"/><circle cx="1121.50" cy="994.50" r="5.5" fill="#2563eb"/><circle cx="1407.50" cy="980.50" r="5.5" fill="#2563eb"/><circle cx="1444.50" cy="999.50" r="5.5" fill="#2563eb"/><circle cx="1080.50" cy="1000.50" r="5.5" fill="#2563eb"/><circle cx="1325.50" cy="930.50" r="5.5" fill="#2563eb"/><circle cx="1027.50" cy="1143.50" r="5.5" fill="#2563eb"/><circle cx="1137.50" cy="964.50" r="5.5" fill="#2563eb"/><circle cx="1421.50" cy="1100.50" r="5.5" fill="#2563eb"/><circle cx="1273.50" cy="977.50" r="5.5" fill="#2563eb"/><circle cx="1111.50" cy="1089.50" r="5.5" fill="#2563eb"/><circle cx="1228.50" cy="988.50" r="5.5" fill="#2563eb"/><circle cx="1376.50" cy="971.50" r="5.5" fill="#2563eb"/><circle cx="1167.50" cy="1015.50" r="5.5" fill="#2563eb"/><circle cx="1126.50" cy="895.50" r="5.5" fill="#2563eb"/><circle cx="1295.50" cy="1051.50" r="5.5" fill="#2563eb"/><circle cx="1191.50" cy="996.50" r="5.5" fill="#2563eb"/><circle cx="1381.50" cy="1029.50" r="5.5" fill="#2563eb"/><circle cx="1216.50" cy="950.50" r="5.5" fill="#2563eb"/><circle cx="1091.50" cy="1013.50" r="5.5" fill="#2563eb"/><circle cx="1088.50" cy="994.50" r="5.5" fill="#2563eb"/><circle cx="1032.50" cy="1106.50" r="5.5" fill="#2563eb"/><circle cx="1069.50" cy="1095.50" r="5.5" fill="#2563eb"/><circle cx="1388.50" cy="1118.50" r="5.5" fill="#2563eb"/><circle cx="1364.50" cy="1022.50" r="5.5" fill="#2563eb"/><circle cx="1259.50" cy="907.50" r="5.5" fill="#2563eb"/><circle cx="1325.50" cy="931.50" r="5.5" fill="#2563eb"/><circle cx="1361.50" cy="1068.50" r="5.5" fill="#2563eb"/><circle cx="1042.50" cy="1087.50" r="5.5" fill="#2563eb"/><circle cx="1217.50" cy="1006.50" r="5.5" fill="#2563eb"/><circle cx="1425.50" cy="1054.50" r="5.5" fill="#2563eb"/><circle cx="1383.50" cy="1121.50" r="5.5" fill="#2563eb"/><circle cx="1302.50" cy="1014.50" r="5.5" fill="#2563eb"/><circle cx="1007.50" cy="1167.50" r="5.5" fill="#2563eb"/><circle cx="1314.50" cy="1043.50" r="5.5" fill="#2563eb"/><circle cx="1339.50" cy="949.50" r="5.5" fill="#2563eb"/><circle cx="1119.50" cy="1035.50" r="5.5" fill="#2563eb"/><circle cx="1283.50" cy="1022.50" r="5.5" fill="#2563eb"/><circle cx="1229.50" cy="953.50" r="5.5" fill="#2563eb"/><circle cx="1089.50" cy="1112.50" r="5.5" fill="#2563eb"/><circle cx="1079.50" cy="1171.50" r="5.5" fill="#2563eb"/><circle cx="1036.50" cy="1051.50" r="5.5" fill="#2563eb"/><circle cx="1271.50" cy="915.50" r="5.5" fill="#2563eb"/><circle cx="1325.50" cy="1019.50" r="5.5" fill="#2563eb"/><circle cx="1120.50" cy="1069.50" r="5.5" fill="#2563eb"/><circle cx="1039.50" cy="1124.50" r="5.5" fill="#2563eb"/><circle cx="1522.50" cy="1172.50" r="5.5" fill="#f59e0b"/><circle cx="1523.50" cy="1238.50" r="5.5" fill="#f59e0b"/><circle cx="1509.50" cy="1246.50" r="5.5" fill="#f59e0b"/><circle cx="1264.50" cy="1164.50" r="5.5" fill="#f59e0b"/><circle cx="1518.50" cy="1212.50" r="5.5" fill="#f59e0b"/><circle cx="1451.50" cy="1270.50" r="5.5" fill="#f59e0b"/><circle cx="1610.50" cy="1194.50" r="5.5" fill="#f59e0b"/><circle cx="1565.50" cy="1046.50" r="5.5" fill="#f59e0b"/><circle cx="1293.50" cy="1233.50" r="5.5" fill="#f59e0b"/><circle cx="1213.50" cy="1132.50" r="5.5" fill="#f59e0b"/><circle cx="1247.50" cy="1229.50" r="5.5" fill="#f59e0b"/><circle cx="1563.50" cy="1075.50" r="5.5" fill="#f59e0b"/><circle cx="1172.50" cy="1033.50" r="5.5" fill="#f59e0b"/><circle cx="1410.50" cy="1157.50" r="5.5" fill="#f59e0b"/><circle cx="1301.50" cy="1266.50" r="5.5" fill="#f59e0b"/><circle cx="1184.50" cy="1183.50" r="5.5" fill="#f59e0b"/><circle cx="1589.50" cy="1183.50" r="5.5" fill="#f59e0b"/><circle cx="1604.50" cy="1039.50" r="5.5" fill="#f59e0b"/><circle cx="1486.50" cy="1194.50" r="5.5" fill="#f59e0b"/><circle cx="1257.50" cy="1147.50" r="5.5" fill="#f59e0b"/><circle cx="1593.50" cy="1202.50" r="5.5" fill="#f59e0b"/><circle cx="1359.50" cy="1254.50" r="5.5" fill="#f59e0b"/><circle cx="1369.50" cy="1289.50" r="5.5" fill="#f59e0b"/><circle cx="1412.50" cy="1196.50" r="5.5" fill="#f59e0b"/><circle cx="1523.50" cy="1076.50" r="5.5" fill="#f59e0b"/><circle cx="1610.50" cy="1145.50" r="5.5" fill="#f59e0b"/><circle cx="1307.50" cy="1149.50" r="5.5" fill="#f59e0b"/><circle cx="1556.50" cy="1114.50" r="5.5" fill="#f59e0b"/><circle cx="1373.50" cy="1257.50" r="5.5" fill="#f59e0b"/><circle cx="1570.50" cy="1210.50" r="5.5" fill="#f59e0b"/><circle cx="1537.50" cy="1163.50" r="5.5" fill="#f59e0b"/><circle cx="1633.50" cy="1032.50" r="5.5" fill="#f59e0b"/><circle cx="1144.50" cy="1111.50" r="5.5" fill="#f59e0b"/><circle cx="1505.50" cy="1106.50" r="5.5" fill="#f59e0b"/><circle cx="1441.50" cy="1210.50" r="5.5" fill="#f59e0b"/><circle cx="1167.50" cy="1145.50" r="5.5" fill="#f59e0b"/><circle cx="1590.50" cy="1122.50" r="5.5" fill="#f59e0b"/><circle cx="1407.50" cy="1227.50" r="5.5" fill="#f59e0b"/><circle cx="1527.50" cy="1217.50" r="5.5" fill="#f59e0b"/><circle cx="1489.50" cy="1185.50" r="5.5" fill="#f59e0b"/><circle cx="1196.50" cy="1106.50" r="5.5" fill="#f59e0b"/><circle cx="1600.50" cy="1065.50" r="5.5" fill="#f59e0b"/><circle cx="1281.50" cy="1244.50" r="5.5" fill="#f59e0b"/><circle cx="1226.50" cy="1198.50" r="5.5" fill="#f59e0b"/><circle cx="1377.50" cy="1257.50" r="5.5" fill="#f59e0b"/><circle cx="1574.50" cy="1035.50" r="5.5" fill="#f59e0b"/><circle cx="1500.50" cy="1280.50" r="5.5" fill="#f59e0b"/><circle cx="1635.50" cy="1053.50" r="5.5" fill="#f59e0b"/><circle cx="1440.50" cy="1252.50" r="5.5" fill="#f59e0b"/><circle cx="1440.50" cy="1195.50" r="5.5" fill="#f59e0b"/><circle cx="1545.50" cy="1286.50" r="5.5" fill="#f59e0b"/><circle cx="1340.50" cy="1151.50" r="5.5" fill="#f59e0b"/><circle cx="1127.50" cy="1093.50" r="5.5" fill="#f59e0b"/><circle cx="1390.50" cy="1228.50" r="5.5" fill="#f59e0b"/><circle cx="1462.50" cy="1261.50" r="5.5" fill="#f59e0b"/><circle cx="1211.50" cy="1128.50" r="5.5" fill="#f59e0b"/><circle cx="1514.50" cy="1203.50" r="5.5" fill="#f59e0b"/><circle cx="1261.50" cy="1097.50" r="5.5" fill="#f59e0b"/><circle cx="1193.50" cy="1153.50" r="5.5" fill="#f59e0b"/><circle cx="1520.50" cy="1131.50" r="5.5" fill="#f59e0b"/><circle cx="1650.50" cy="1100.50" r="5.5" fill="#f59e0b"/><circle cx="1543.50" cy="1233.50" r="5.5" fill="#f59e0b"/><circle cx="1208.50" cy="1208.50" r="5.5" fill="#f59e0b"/><circle cx="1241.50" cy="1103.50" r="5.5" fill="#f59e0b"/><circle cx="1456.50" cy="1150.50" r="5.5" fill="#f59e0b"/><circle cx="1195.50" cy="1214.50" r="5.5" fill="#f59e0b"/><circle cx="1255.50" cy="1120.50" r="5.5" fill="#f59e0b"/><circle cx="1551.50" cy="1175.50" r="5.5" fill="#f59e0b"/><circle cx="1460.50" cy="1267.50" r="5.5" fill="#f59e0b"/><circle cx="1498.50" cy="1204.50" r="5.5" fill="#f59e0b"/><circle cx="1255.50" cy="1047.50" r="5.5" fill="#f59e0b"/><circle cx="1485.50" cy="1113.50" r="5.5" fill="#f59e0b"/><circle cx="1571.50" cy="1107.50" r="5.5" fill="#f59e0b"/><circle cx="1220.50" cy="1135.50" r="5.5" fill="#f59e0b"/><circle cx="1592.50" cy="1127.50" r="5.5" fill="#f59e0b"/><circle cx="1214.50" cy="1125.50" r="5.5" fill="#f59e0b"/><circle cx="1217.50" cy="1163.50" r="5.5" fill="#f59e0b"/><circle cx="1285.50" cy="1211.50" r="5.5" fill="#f59e0b"/><circle cx="1526.50" cy="1248.50" r="5.5" fill="#f59e0b"/><circle cx="1614.50" cy="1191.50" r="5.5" fill="#f59e0b"/><circle cx="1491.50" cy="1184.50" r="5.5" fill="#f59e0b"/><circle cx="1525.50" cy="1142.50" r="5.5" fill="#f59e0b"/><circle cx="1451.50" cy="1215.50" r="5.5" fill="#f59e0b"/><circle cx="1388.50" cy="1282.50" r="5.5" fill="#f59e0b"/><circle cx="1381.50" cy="1266.50" r="5.5" fill="#f59e0b"/><circle cx="1401.50" cy="1247.50" r="5.5" fill="#f59e0b"/><circle cx="1231.50" cy="995.50" r="5.5" fill="#f59e0b"/><circle cx="1358.50" cy="1215.50" r="5.5" fill="#f59e0b"/><circle cx="1263.50" cy="1217.50" r="5.5" fill="#f59e0b"/><circle cx="1350.50" cy="1192.50" r="5.5" fill="#f59e0b"/><circle cx="1603.50" cy="1103.50" r="5.5" fill="#f59e0b"/><circle cx="1412.50" cy="1166.50" r="5.5" fill="#f59e0b"/><circle cx="1552.50" cy="1213.50" r="5.5" fill="#f59e0b"/><circle cx="1467.50" cy="1174.50" r="5.5" fill="#f59e0b"/><circle cx="1380.50" cy="1260.50" r="5.5" fill="#f59e0b"/><circle cx="1403.50" cy="1246.50" r="5.5" fill="#f59e0b"/><circle cx="1593.50" cy="1197.50" r="5.5" fill="#f59e0b"/><circle cx="1250.50" cy="1167.50" r="5.5" fill="#f59e0b"/><circle cx="1260.50" cy="1193.50" r="5.5" fill="#f59e0b"/><circle cx="1379.50" cy="1186.50" r="5.5" fill="#f59e0b"/><circle cx="1189.50" cy="1142.50" r="5.5" fill="#f59e0b"/><circle cx="1583.50" cy="1048.50" r="5.5" fill="#f59e0b"/><circle cx="1320.50" cy="1238.50" r="5.5" fill="#f59e0b"/><circle cx="1425.50" cy="1279.50" r="5.5" fill="#f59e0b"/><circle cx="1231.50" cy="1122.50" r="5.5" fill="#f59e0b"/><circle cx="1543.50" cy="1148.50" r="5.5" fill="#f59e0b"/><circle cx="1285.50" cy="1203.50" r="5.5" fill="#f59e0b"/><circle cx="1275.50" cy="1208.50" r="5.5" fill="#f59e0b"/><circle cx="1279.50" cy="1153.50" r="5.5" fill="#f59e0b"/><circle cx="1302.50" cy="1221.50" r="5.5" fill="#f59e0b"/><circle cx="1322.50" cy="1189.50" r="5.5" fill="#f59e0b"/><circle cx="1547.50" cy="1044.50" r="5.5" fill="#f59e0b"/><circle cx="1301.50" cy="1220.50" r="5.5" fill="#f59e0b"/><circle cx="1213.50" cy="1052.50" r="5.5" fill="#f59e0b"/><circle cx="1613.50" cy="1044.50" r="5.5" fill="#f59e0b"/><circle cx="1408.50" cy="1283.50" r="5.5" fill="#f59e0b"/><circle cx="1470.50" cy="1168.50" r="5.5" fill="#f59e0b"/><circle cx="1336.50" cy="1192.50" r="5.5" fill="#f59e0b"/><circle cx="1428.50" cy="1190.50" r="5.5" fill="#f59e0b"/><circle cx="1221.50" cy="1128.50" r="5.5" fill="#f59e0b"/><circle cx="1530.50" cy="1152.50" r="5.5" fill="#f59e0b"/><circle cx="1181.50" cy="1064.50" r="5.5" fill="#f59e0b"/><circle cx="1549.50" cy="1175.50" r="5.5" fill="#f59e0b"/><circle cx="1355.50" cy="1208.50" r="5.5" fill="#f59e0b"/><circle cx="1271.50" cy="1224.50" r="5.5" fill="#f59e0b"/><circle cx="1396.50" cy="1288.50" r="5.5" fill="#f59e0b"/><circle cx="1240.50" cy="1048.50" r="5.5" fill="#f59e0b"/><circle cx="1366.50" cy="1250.50" r="5.5" fill="#f59e0b"/><circle cx="1382.50" cy="1239.50" r="5.5" fill="#f59e0b"/><circle cx="1341.50" cy="1158.50" r="5.5" fill="#f59e0b"/></g>
<path d="M1728 1332.8 L1682.9 1259.7 L1652.9 1211.5 L1626.2 1169.6 L1602.8 1133.9 L1581.1 1101.9 L1571.1 1087.7 L1561.1 1073.9 L1551.1 1060.4 L1542.7 1049.6 L1532.7 1037.1 L1524.4 1027.1 L1516 1017.6 L1507.7 1008.5 L1499.3 999.9 L1491 991.9 L1482.6 984.5 L1474.3 977.7 L1466 971.5 L1459.3 967.1 L1450.9 962.3 L1444.3 959 L1437.6 956.2 L1430.9 954 L1425.9 952.7 L1422.6 952.1 L1415.9 951.1 L1409.2 950.8 L1402.5 951.2 L1395.9 952.1 L1389.2 953.7 L1384.2 955.4 L1377.5 958.1 L1370.8 961.5 L1364.1 965.6 L1357.5 970.3 L1350.8 975.5 L1344.1 981.4 L1339.1 986.1 L1332.4 992.8 L1326.1 999.5 L1312.9 1014.5 L1290.7 1040.8 L1280.7 1052.4 L1269 1065.1 L1259 1075.2 L1252.3 1081.3 L1247.3 1085.6 L1240.6 1090.9 L1235.6 1094.6 L1228.9 1099 L1223.9 1102 L1218.9 1104.7 L1213.9 1107.2 L1208.9 1109.4 L1202.2 1111.9 L1195.6 1114 L1188.9 1115.6 L1182.2 1116.9 L1175.5 1117.9 L1168.9 1118.5 L1162.2 1118.8 L1155.5 1118.9 L1148.8 1118.7 L1135.5 1117.8 L1122.1 1116.4 L1092.1 1112.5 L1083.7 1111.7 L1075.4 1111 L1067 1110.7 L1060.4 1110.8 L1053.7 1111.1 L1048.7 1111.7 L1042 1112.8 L1035.3 1114.4 L1029.9 1116.3 L1023.6 1119 L1018.6 1121.7 L1013.3 1125.2 L1008.6 1129 L1003.6 1133.8 L1000.5 1137.2 L998 1140.2 L995.3 1143.9 L991.9 1148.9 L986.9 1157.6 L983.7 1164.1 L981.9 1168 L977.5 1179.1 L973.5 1191.1 L969.3 1206 L965.8 1221 L962.2 1238.9 L959.2 1256.9 L956.2 1277.8 L953.6 1298.8 L951 1322.7 L948.5 1347.7 L945.8 1379.6 L942.9 1415.5M1728 1375.1 L1689.6 1313.3 L1659.6 1265.6 L1634.5 1226.8 L1612.8 1194 L1592.8 1164.9 L1582.8 1150.8 L1572.8 1137 L1562.8 1123.8 L1554.4 1113 L1546.1 1102.7 L1537.7 1092.7 L1529.4 1083.2 L1521 1074.1 L1512.7 1065.6 L1506 1059.1 L1497.7 1051.6 L1491 1046 L1482.6 1039.7 L1476 1035.1 L1467.6 1030.1 L1460.9 1026.7 L1454.3 1023.8 L1447.6 1021.6 L1440.9 1019.9 L1434.2 1018.9 L1427.6 1018.5 L1422.6 1018.7 L1417.5 1019.3 L1412.5 1020.4 L1407.5 1021.8 L1404.2 1023.1 L1399.2 1025.3 L1395.9 1027 L1391.8 1029.5 L1387.5 1032.3 L1383.4 1035.5 L1379.2 1039 L1375.8 1042.1 L1370.8 1047.1 L1367.5 1050.7 L1362.5 1056.5 L1357.8 1062.4 L1354.1 1067.4 L1347.4 1077 L1341.5 1086.3 L1334.3 1098.3 L1327.5 1110.3 L1321 1122.2 L1313.3 1137.2 L1284 1195.3 L1270.7 1220.9 L1262.3 1236.2 L1255.6 1247.9 L1249 1259.1 L1242.3 1269.8 L1230.6 1287.5 L1223.9 1297 L1217.3 1306.1 L1208.9 1317 L1200.6 1327.4 L1169.7 1364.6 L1157.8 1379.6 L1151 1388.6 L1144.6 1397.5 L1138.6 1406.5 L1132.9 1415.5" fill="none" stroke="#f59e0b" stroke-width="2.08333" stroke-dasharray="7.71 3.33"/>
<path d="M1728 1353.8 L1686.3 1286.4 L1656.2 1238.5 L1631.2 1199.4 L1607.8 1163.9 L1586.1 1132.2 L1576.1 1118.1 L1566.1 1104.3 L1556.1 1091 L1547.7 1080.2 L1539.4 1069.9 L1531 1059.9 L1522.7 1050.4 L1514.4 1041.3 L1506 1032.7 L1497.7 1024.7 L1489.3 1017.3 L1482.6 1011.8 L1474.3 1005.6 L1467.6 1001.1 L1459.3 996.2 L1452.6 992.8 L1445.9 990 L1439.2 987.7 L1432.6 986 L1425.9 985 L1419.2 984.6 L1412.5 984.8 L1407.5 985.4 L1404.2 986.1 L1397.5 987.9 L1390.5 990.6 L1385.8 992.8 L1382.5 994.7 L1379.2 996.7 L1374.9 999.5 L1367.5 1005.2 L1360.3 1011.5 L1352.5 1019.5 L1346.1 1026.5 L1339.1 1035 L1332.4 1043.6 L1325.8 1052.8 L1312.9 1071.4 L1290.7 1105 L1280.7 1119.8 L1270.7 1134 L1262.3 1145.2 L1252.3 1157.7 L1242.3 1169.1 L1232.3 1179.4 L1227.3 1184.1 L1222.3 1188.6 L1213.9 1195.4 L1205.6 1201.5 L1195.6 1208.1 L1185.5 1213.9 L1177.2 1218.2 L1167.2 1223 L1137.2 1236 L1127.1 1240.5 L1117.1 1245.5 L1108.8 1250.3 L1100.4 1255.7 L1095.4 1259.4 L1092.1 1262.1 L1085.4 1268 L1078.7 1274.9 L1073.7 1280.7 L1069 1286.8 L1064.9 1292.8 L1061.1 1298.8 L1057 1306 L1053.7 1312.4 L1050.2 1319.7 L1046.3 1328.7 L1042.8 1337.7 L1039.6 1346.7 L1036.6 1355.7 L1033 1367.6 L1030.3 1377.1 L1027 1390 L1023.8 1403.5 L1021.2 1415.5" fill="none" stroke="#1e293b" stroke-width="3.75" stroke-linejoin="round"/>
</g>
<path d="M895 820V1416H1728" fill="none" stroke="#cbd5e1" stroke-width="2" stroke-linecap="square" stroke-linejoin="miter"/>
<text transform="translate(882.90 59.90) scale(1.0540 1.060)" font-size="28.00" text-anchor="middle" xml:space="preserve">Common kernels on the same moons dataset</text>
<text transform="translate(453.80 123.20) scale(1.0540 1.020)" font-size="22.00" text-anchor="middle" xml:space="preserve">Linear  -  train acc = 0.86</text>
<text transform="translate(1311.90 123.20) scale(1.0540 1.020)" font-size="22.00" text-anchor="middle" xml:space="preserve">Polynomial (d=3)  -  train acc = 0.95</text>
<text transform="translate(287.00 791.20) scale(0.9802 1.020)" font-size="22.00" text-anchor="start" xml:space="preserve">RBF (</text>
<text transform="translate(342.50 791.20) scale(1.0000 1.000)" font-size="22.00" text-anchor="start" xml:space="preserve" style="font-family:'DejaVu Sans',sans-serif;font-style:italic;">γ</text>
<text transform="translate(360.50 791.20) scale(1.0000 1.000)" font-size="22.00" text-anchor="start" xml:space="preserve" style="font-family:'DejaVu Sans',sans-serif;">=</text>
<text transform="translate(385.20 791.20) scale(1.0000 1.000)" font-size="22.00" text-anchor="start" xml:space="preserve" style="font-family:'DejaVu Sans',sans-serif;">1.0</text>
<text transform="translate(620.20 791.20) scale(1.0540 1.020)" font-size="22.00" text-anchor="end" xml:space="preserve">)  -  train acc = 0.95</text>
<text transform="translate(1310.20 791.20) scale(1.0540 1.020)" font-size="22.00" text-anchor="middle" xml:space="preserve">Sigmoid  -  train acc = 0.71</text>
</svg>
</body></html>
